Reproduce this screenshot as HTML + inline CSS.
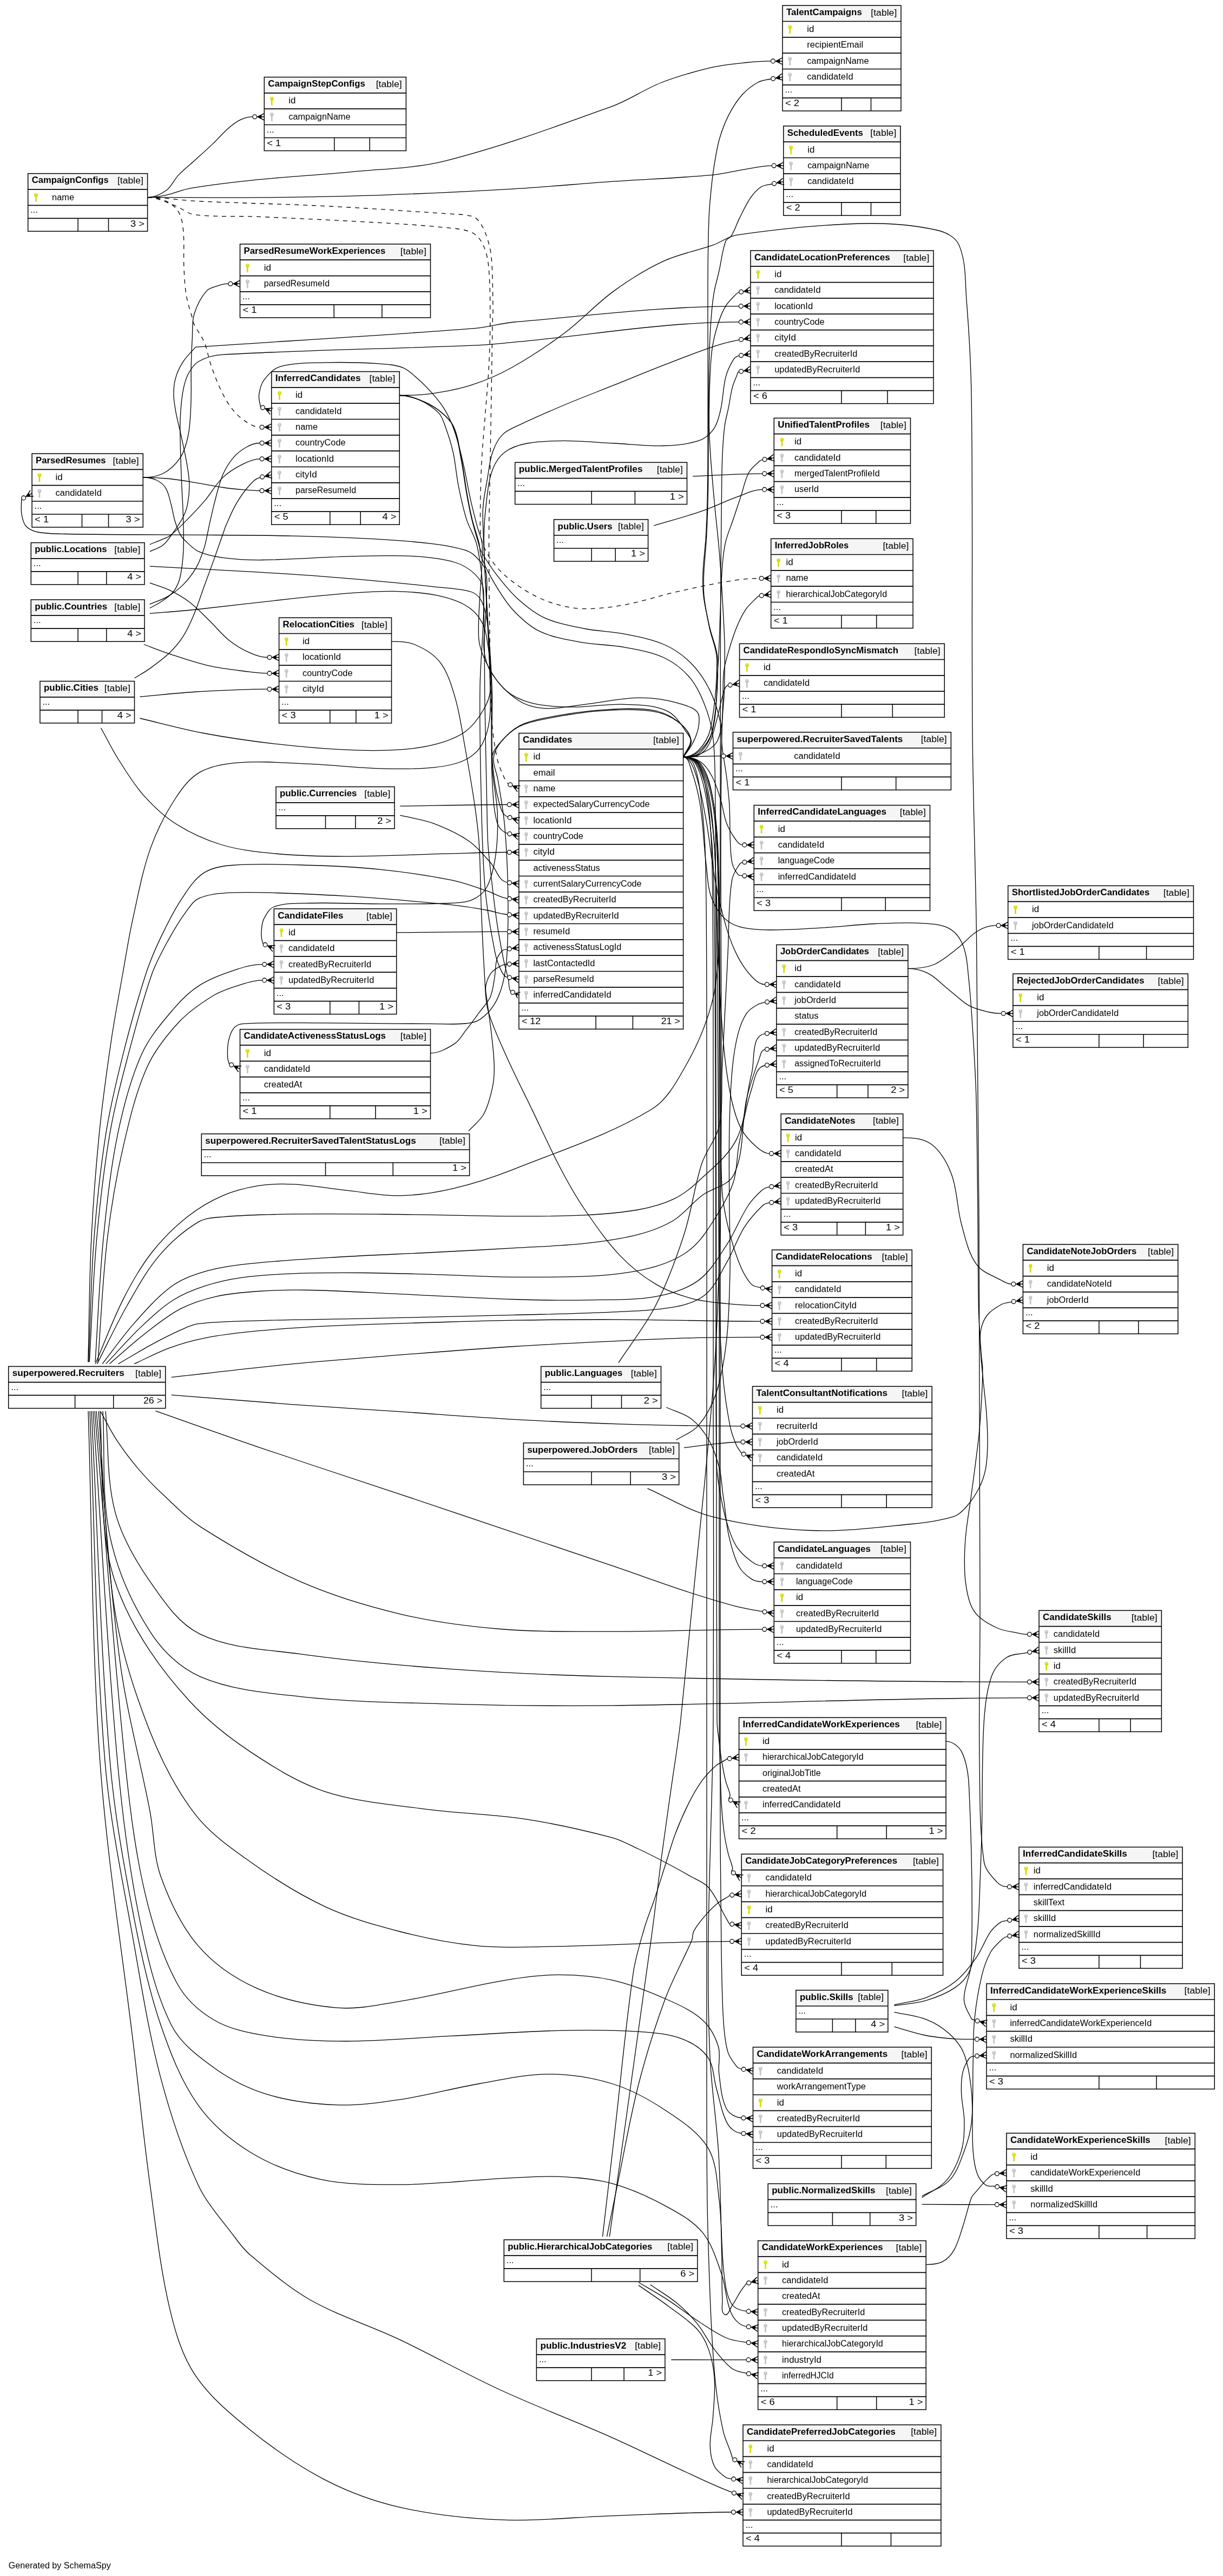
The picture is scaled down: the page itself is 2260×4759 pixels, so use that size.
<!DOCTYPE html>
<html><head><meta charset="utf-8"><title>Candidates - two degrees</title>
<style>
html,body{margin:0;padding:0;background:#fff}
svg{display:block;will-change:transform;opacity:0.9999}
text{font-family:"Liberation Sans",sans-serif;font-size:15.6px;fill:#000}
.b{font-weight:bold}
.il{stroke:#000;stroke-width:1.7;fill:none}
.vl{stroke:#000;stroke-width:1.5;fill:none}
.ob{stroke:#000;stroke-width:1.5;fill:none}
.e{stroke:#000;stroke-width:1.3;fill:none}
.d{stroke:#000;stroke-width:1.3;fill:none;stroke-dasharray:8 8}
.c circle{stroke:#000;stroke-width:1.3;fill:#fff}
.cr{stroke:#000;stroke-width:1.5;fill:none}
</style></head><body>
<svg width="2260" height="4759" viewBox="0 0 2260 4759">
<defs>
<g id="pk"><circle cx="0" cy="-4.3" r="3.4" fill="#d5dd00"/><circle cx="0" cy="-5.3" r="0.9" fill="#fff"/><path d="M-1.5 -2H1.4V1L0.8 1.6L1.4 2.2V3L0.8 3.6L1.4 4.2V5L0.8 5.6L1.4 6.2V7.4L0.4 8.4H-0.6L-1.5 7.4Z" fill="#d5dd00"/></g>
<g id="fk"><circle cx="0" cy="-4.3" r="3.4" fill="#c4c4c4"/><circle cx="0" cy="-5.3" r="0.9" fill="#fff"/><path d="M-1.5 -2H1.4V1L0.8 1.6L1.4 2.2V3L0.8 3.6L1.4 4.2V5L0.8 5.6L1.4 6.2V7.4L0.4 8.4H-0.6L-1.5 7.4Z" fill="#c4c4c4"/></g>
</defs>
<rect width="2260" height="4759" fill="#fff"/>
<g>
<rect x="488.3" y="142.5" width="262.1" height="136" fill="#fff"/>
<rect x="488.3" y="142.5" width="262.1" height="29.3" fill="#f5f5f5"/>
<path class="il" d="M488.3 171.8H750.4M488.3 201.2H750.4M488.3 230.5H750.4M488.3 254.5H750.4"/>
<path class="vl" d="M617.8 254.5V278.5M683.2 254.5V278.5"/>
<rect class="ob" x="488.3" y="142.5" width="262.1" height="136"/>
<text x="495.3" y="160.3" textLength="179.5" lengthAdjust="spacingAndGlyphs" class="b">CampaignStepConfigs</text>
<text x="742.7" y="161.1" textLength="48" lengthAdjust="spacingAndGlyphs" text-anchor="end">[table]</text>
<use href="#pk" x="502.4" y="186.5"/>
<text x="533.3" y="191.4" textLength="13.2" lengthAdjust="spacingAndGlyphs">id</text>
<use href="#fk" x="502.4" y="215.8"/>
<text x="533.3" y="220.7" textLength="114.2" lengthAdjust="spacingAndGlyphs">campaignName</text>
<text x="492.8" y="244.5" textLength="13.8" lengthAdjust="spacingAndGlyphs">...</text>
<text x="493.3" y="269.7" textLength="26" lengthAdjust="spacingAndGlyphs">&lt; 1</text>
</g>
<g>
<rect x="51.7" y="320.6" width="220.9" height="106.7" fill="#fff"/>
<rect x="51.7" y="320.6" width="220.9" height="29.3" fill="#f5f5f5"/>
<path class="il" d="M51.7 349.9H272.6M51.7 379.3H272.6M51.7 403.3H272.6"/>
<path class="vl" d="M144.1 403.3V427.3M200.5 403.3V427.3"/>
<rect class="ob" x="51.7" y="320.6" width="220.9" height="106.7"/>
<text x="58.7" y="338.4" textLength="142" lengthAdjust="spacingAndGlyphs" class="b">CampaignConfigs</text>
<text x="264.9" y="339.2" textLength="48" lengthAdjust="spacingAndGlyphs" text-anchor="end">[table]</text>
<use href="#pk" x="66.5" y="364.6"/>
<text x="96.1" y="369.5" textLength="41.1" lengthAdjust="spacingAndGlyphs">name</text>
<text x="56.2" y="393.3" textLength="13.8" lengthAdjust="spacingAndGlyphs">...</text>
<text x="266.9" y="418.5" textLength="26" lengthAdjust="spacingAndGlyphs" text-anchor="end">3 &gt;</text>
</g>
<g>
<rect x="443.5" y="450.9" width="352" height="136" fill="#fff"/>
<rect x="443.5" y="450.9" width="352" height="29.3" fill="#f5f5f5"/>
<path class="il" d="M443.5 480.2H795.5M443.5 509.6H795.5M443.5 538.9H795.5M443.5 562.9H795.5"/>
<path class="vl" d="M617.2 562.9V586.9M705.9 562.9V586.9"/>
<rect class="ob" x="443.5" y="450.9" width="352" height="136"/>
<text x="450.5" y="468.7" textLength="261.8" lengthAdjust="spacingAndGlyphs" class="b">ParsedResumeWorkExperiences</text>
<text x="787.8" y="469.5" textLength="48" lengthAdjust="spacingAndGlyphs" text-anchor="end">[table]</text>
<use href="#pk" x="457.4" y="494.9"/>
<text x="487.8" y="499.8" textLength="13.2" lengthAdjust="spacingAndGlyphs">id</text>
<use href="#fk" x="457.4" y="524.2"/>
<text x="487.8" y="529.1" textLength="121.3" lengthAdjust="spacingAndGlyphs">parsedResumeId</text>
<text x="448" y="552.9" textLength="13.8" lengthAdjust="spacingAndGlyphs">...</text>
<text x="448.5" y="578.1" textLength="26" lengthAdjust="spacingAndGlyphs">&lt; 1</text>
</g>
<g>
<rect x="501.7" y="686.5" width="236.5" height="282.7" fill="#fff"/>
<rect x="501.7" y="686.5" width="236.5" height="29.3" fill="#f5f5f5"/>
<path class="il" d="M501.7 715.8H738.2M501.7 745.2H738.2M501.7 774.5H738.2M501.7 803.8H738.2M501.7 833.2H738.2M501.7 862.5H738.2M501.7 891.8H738.2M501.7 921.2H738.2M501.7 945.2H738.2"/>
<path class="vl" d="M609.8 945.2V969.2M666.2 945.2V969.2"/>
<rect class="ob" x="501.7" y="686.5" width="236.5" height="282.7"/>
<text x="508.7" y="704.3" textLength="157.9" lengthAdjust="spacingAndGlyphs" class="b">InferredCandidates</text>
<text x="730.5" y="705.1" textLength="48" lengthAdjust="spacingAndGlyphs" text-anchor="end">[table]</text>
<use href="#pk" x="516.5" y="730.5"/>
<text x="546.1" y="735.4" textLength="13.2" lengthAdjust="spacingAndGlyphs">id</text>
<use href="#fk" x="516.5" y="759.8"/>
<text x="546.1" y="764.7" textLength="85.4" lengthAdjust="spacingAndGlyphs">candidateId</text>
<use href="#fk" x="516.5" y="789.2"/>
<text x="546.1" y="794.1" textLength="41.1" lengthAdjust="spacingAndGlyphs">name</text>
<use href="#fk" x="516.5" y="818.5"/>
<text x="546.1" y="823.4" textLength="92.5" lengthAdjust="spacingAndGlyphs">countryCode</text>
<use href="#fk" x="516.5" y="847.8"/>
<text x="546.1" y="852.7" textLength="71" lengthAdjust="spacingAndGlyphs">locationId</text>
<use href="#fk" x="516.5" y="877.2"/>
<text x="546.1" y="882.1" textLength="39.7" lengthAdjust="spacingAndGlyphs">cityId</text>
<use href="#fk" x="516.5" y="906.5"/>
<text x="546.1" y="911.4" textLength="112.1" lengthAdjust="spacingAndGlyphs">parseResumeId</text>
<text x="506.2" y="935.2" textLength="13.8" lengthAdjust="spacingAndGlyphs">...</text>
<text x="506.7" y="960.4" textLength="26" lengthAdjust="spacingAndGlyphs">&lt; 5</text>
<text x="732.5" y="960.4" textLength="26" lengthAdjust="spacingAndGlyphs" text-anchor="end">4 &gt;</text>
</g>
<g>
<rect x="59.1" y="838" width="205.2" height="136" fill="#fff"/>
<rect x="59.1" y="838" width="205.2" height="29.3" fill="#f5f5f5"/>
<path class="il" d="M59.1 867.3H264.3M59.1 896.7H264.3M59.1 926H264.3M59.1 950H264.3"/>
<path class="vl" d="M151.5 950V974M200.5 950V974"/>
<rect class="ob" x="59.1" y="838" width="205.2" height="136"/>
<text x="66.1" y="855.8" textLength="129.5" lengthAdjust="spacingAndGlyphs" class="b">ParsedResumes</text>
<text x="256.6" y="856.6" textLength="48" lengthAdjust="spacingAndGlyphs" text-anchor="end">[table]</text>
<use href="#pk" x="73" y="882"/>
<text x="102.6" y="886.9" textLength="13.2" lengthAdjust="spacingAndGlyphs">id</text>
<use href="#fk" x="73" y="911.3"/>
<text x="102.6" y="916.2" textLength="85.4" lengthAdjust="spacingAndGlyphs">candidateId</text>
<text x="63.6" y="940" textLength="13.8" lengthAdjust="spacingAndGlyphs">...</text>
<text x="64.1" y="965.2" textLength="26" lengthAdjust="spacingAndGlyphs">&lt; 1</text>
<text x="258.6" y="965.2" textLength="26" lengthAdjust="spacingAndGlyphs" text-anchor="end">3 &gt;</text>
</g>
<g>
<rect x="57.3" y="1002.6" width="209.7" height="77.3" fill="#fff"/>
<rect x="57.3" y="1002.6" width="209.7" height="29.3" fill="#f5f5f5"/>
<path class="il" d="M57.3 1031.9H267M57.3 1055.9H267"/>
<path class="vl" d="M144.1 1055.9V1079.9M196.8 1055.9V1079.9"/>
<rect class="ob" x="57.3" y="1002.6" width="209.7" height="77.3"/>
<text x="64.3" y="1020.4" textLength="133.4" lengthAdjust="spacingAndGlyphs" class="b">public.Locations</text>
<text x="259.3" y="1021.2" textLength="48" lengthAdjust="spacingAndGlyphs" text-anchor="end">[table]</text>
<text x="61.8" y="1045.9" textLength="13.8" lengthAdjust="spacingAndGlyphs">...</text>
<text x="261.3" y="1071.1" textLength="26" lengthAdjust="spacingAndGlyphs" text-anchor="end">4 &gt;</text>
</g>
<g>
<rect x="57.3" y="1107.9" width="209.7" height="77.3" fill="#fff"/>
<rect x="57.3" y="1107.9" width="209.7" height="29.3" fill="#f5f5f5"/>
<path class="il" d="M57.3 1137.2H267M57.3 1161.2H267"/>
<path class="vl" d="M144.1 1161.2V1185.2M196.8 1161.2V1185.2"/>
<rect class="ob" x="57.3" y="1107.9" width="209.7" height="77.3"/>
<text x="64.3" y="1125.7" textLength="133.8" lengthAdjust="spacingAndGlyphs" class="b">public.Countries</text>
<text x="259.3" y="1126.5" textLength="48" lengthAdjust="spacingAndGlyphs" text-anchor="end">[table]</text>
<text x="61.8" y="1151.2" textLength="13.8" lengthAdjust="spacingAndGlyphs">...</text>
<text x="261.3" y="1176.4" textLength="26" lengthAdjust="spacingAndGlyphs" text-anchor="end">4 &gt;</text>
</g>
<g>
<rect x="73.9" y="1258.5" width="174.6" height="77.3" fill="#fff"/>
<rect x="73.9" y="1258.5" width="174.6" height="29.3" fill="#f5f5f5"/>
<path class="il" d="M73.9 1287.8H248.5M73.9 1311.8H248.5"/>
<path class="vl" d="M144.1 1311.8V1335.8M188.5 1311.8V1335.8"/>
<rect class="ob" x="73.9" y="1258.5" width="174.6" height="77.3"/>
<text x="80.9" y="1276.3" textLength="101" lengthAdjust="spacingAndGlyphs" class="b">public.Cities</text>
<text x="240.8" y="1277.1" textLength="48" lengthAdjust="spacingAndGlyphs" text-anchor="end">[table]</text>
<text x="78.4" y="1301.8" textLength="13.8" lengthAdjust="spacingAndGlyphs">...</text>
<text x="242.8" y="1327" textLength="26" lengthAdjust="spacingAndGlyphs" text-anchor="end">4 &gt;</text>
</g>
<g>
<rect x="515.6" y="1141.2" width="207.9" height="194.7" fill="#fff"/>
<rect x="515.6" y="1141.2" width="207.9" height="29.3" fill="#f5f5f5"/>
<path class="il" d="M515.6 1170.5H723.5M515.6 1199.9H723.5M515.6 1229.2H723.5M515.6 1258.5H723.5M515.6 1287.9H723.5M515.6 1311.9H723.5"/>
<path class="vl" d="M609.8 1311.9V1335.9M657.9 1311.9V1335.9"/>
<rect class="ob" x="515.6" y="1141.2" width="207.9" height="194.7"/>
<text x="522.6" y="1159" textLength="132.4" lengthAdjust="spacingAndGlyphs" class="b">RelocationCities</text>
<text x="715.8" y="1159.8" textLength="48" lengthAdjust="spacingAndGlyphs" text-anchor="end">[table]</text>
<use href="#pk" x="529.4" y="1185.2"/>
<text x="559" y="1190.1" textLength="13.2" lengthAdjust="spacingAndGlyphs">id</text>
<use href="#fk" x="529.4" y="1214.5"/>
<text x="559" y="1219.4" textLength="71" lengthAdjust="spacingAndGlyphs">locationId</text>
<use href="#fk" x="529.4" y="1243.9"/>
<text x="559" y="1248.8" textLength="92.5" lengthAdjust="spacingAndGlyphs">countryCode</text>
<use href="#fk" x="529.4" y="1273.2"/>
<text x="559" y="1278.1" textLength="39.7" lengthAdjust="spacingAndGlyphs">cityId</text>
<text x="520.1" y="1301.9" textLength="13.8" lengthAdjust="spacingAndGlyphs">...</text>
<text x="520.6" y="1327.1" textLength="26" lengthAdjust="spacingAndGlyphs">&lt; 3</text>
<text x="717.8" y="1327.1" textLength="26" lengthAdjust="spacingAndGlyphs" text-anchor="end">1 &gt;</text>
</g>
<g>
<rect x="510" y="1453.5" width="219" height="77.3" fill="#fff"/>
<rect x="510" y="1453.5" width="219" height="29.3" fill="#f5f5f5"/>
<path class="il" d="M510 1482.8H729M510 1506.8H729"/>
<path class="vl" d="M601.5 1506.8V1530.8M656.9 1506.8V1530.8"/>
<rect class="ob" x="510" y="1453.5" width="219" height="77.3"/>
<text x="517" y="1471.3" textLength="142.5" lengthAdjust="spacingAndGlyphs" class="b">public.Currencies</text>
<text x="721.3" y="1472.1" textLength="48" lengthAdjust="spacingAndGlyphs" text-anchor="end">[table]</text>
<text x="514.5" y="1496.8" textLength="13.8" lengthAdjust="spacingAndGlyphs">...</text>
<text x="723.3" y="1522" textLength="26" lengthAdjust="spacingAndGlyphs" text-anchor="end">2 &gt;</text>
</g>
<g>
<rect x="506.3" y="1678.9" width="226.4" height="194.7" fill="#fff"/>
<rect x="506.3" y="1678.9" width="226.4" height="29.3" fill="#f5f5f5"/>
<path class="il" d="M506.3 1708.2H732.7M506.3 1737.6H732.7M506.3 1766.9H732.7M506.3 1796.2H732.7M506.3 1825.6H732.7M506.3 1849.6H732.7"/>
<path class="vl" d="M609.8 1849.6V1873.6M663.4 1849.6V1873.6"/>
<rect class="ob" x="506.3" y="1678.9" width="226.4" height="194.7"/>
<text x="513.3" y="1696.7" textLength="121.3" lengthAdjust="spacingAndGlyphs" class="b">CandidateFiles</text>
<text x="725" y="1697.5" textLength="48" lengthAdjust="spacingAndGlyphs" text-anchor="end">[table]</text>
<use href="#pk" x="520" y="1722.9"/>
<text x="533" y="1727.8" textLength="13.2" lengthAdjust="spacingAndGlyphs">id</text>
<use href="#fk" x="520" y="1752.2"/>
<text x="533" y="1757.1" textLength="85.4" lengthAdjust="spacingAndGlyphs">candidateId</text>
<use href="#fk" x="520" y="1781.6"/>
<text x="533" y="1786.5" textLength="153.2" lengthAdjust="spacingAndGlyphs">createdByRecruiterId</text>
<use href="#fk" x="520" y="1810.9"/>
<text x="533" y="1815.8" textLength="158.3" lengthAdjust="spacingAndGlyphs">updatedByRecruiterId</text>
<text x="510.8" y="1839.6" textLength="13.8" lengthAdjust="spacingAndGlyphs">...</text>
<text x="511.3" y="1864.8" textLength="26" lengthAdjust="spacingAndGlyphs">&lt; 3</text>
<text x="727" y="1864.8" textLength="26" lengthAdjust="spacingAndGlyphs" text-anchor="end">1 &gt;</text>
</g>
<g>
<rect x="958.9" y="1354.5" width="303.7" height="546.7" fill="#fff"/>
<rect x="958.9" y="1354.5" width="303.7" height="29.3" fill="#f5f5f5"/>
<path class="il" d="M958.9 1383.8H1262.6M958.9 1413.2H1262.6M958.9 1442.5H1262.6M958.9 1471.8H1262.6M958.9 1501.2H1262.6M958.9 1530.5H1262.6M958.9 1559.8H1262.6M958.9 1589.2H1262.6M958.9 1618.5H1262.6M958.9 1647.8H1262.6M958.9 1677.2H1262.6M958.9 1706.5H1262.6M958.9 1735.8H1262.6M958.9 1765.2H1262.6M958.9 1794.5H1262.6M958.9 1823.8H1262.6M958.9 1853.2H1262.6M958.9 1877.2H1262.6"/>
<path class="vl" d="M1101.1 1877.2V1901.2M1169.4 1877.2V1901.2"/>
<rect class="ob" x="958.9" y="1354.5" width="303.7" height="546.7"/>
<text x="965.9" y="1372.3" textLength="91.6" lengthAdjust="spacingAndGlyphs" class="b">Candidates</text>
<text x="1254.9" y="1373.1" textLength="48" lengthAdjust="spacingAndGlyphs" text-anchor="end">[table]</text>
<use href="#pk" x="972.4" y="1398.5"/>
<text x="985.4" y="1403.4" textLength="13.2" lengthAdjust="spacingAndGlyphs">id</text>
<text x="985.4" y="1432.7" textLength="40" lengthAdjust="spacingAndGlyphs">email</text>
<use href="#fk" x="972.4" y="1457.2"/>
<text x="985.4" y="1462.1" textLength="41.1" lengthAdjust="spacingAndGlyphs">name</text>
<use href="#fk" x="972.4" y="1486.5"/>
<text x="985.4" y="1491.4" textLength="215.1" lengthAdjust="spacingAndGlyphs">expectedSalaryCurrencyCode</text>
<use href="#fk" x="972.4" y="1515.8"/>
<text x="985.4" y="1520.7" textLength="71" lengthAdjust="spacingAndGlyphs">locationId</text>
<use href="#fk" x="972.4" y="1545.2"/>
<text x="985.4" y="1550.1" textLength="92.5" lengthAdjust="spacingAndGlyphs">countryCode</text>
<use href="#fk" x="972.4" y="1574.5"/>
<text x="985.4" y="1579.4" textLength="39.7" lengthAdjust="spacingAndGlyphs">cityId</text>
<text x="985.4" y="1608.7" textLength="123.4" lengthAdjust="spacingAndGlyphs">activenessStatus</text>
<use href="#fk" x="972.4" y="1633.2"/>
<text x="985.4" y="1638.1" textLength="200.2" lengthAdjust="spacingAndGlyphs">currentSalaryCurrencyCode</text>
<use href="#fk" x="972.4" y="1662.5"/>
<text x="985.4" y="1667.4" textLength="153.2" lengthAdjust="spacingAndGlyphs">createdByRecruiterId</text>
<use href="#fk" x="972.4" y="1691.8"/>
<text x="985.4" y="1696.7" textLength="158.3" lengthAdjust="spacingAndGlyphs">updatedByRecruiterId</text>
<use href="#fk" x="972.4" y="1721.2"/>
<text x="985.4" y="1726.1" textLength="67.8" lengthAdjust="spacingAndGlyphs">resumeId</text>
<use href="#fk" x="972.4" y="1750.5"/>
<text x="985.4" y="1755.4" textLength="162.8" lengthAdjust="spacingAndGlyphs">activenessStatusLogId</text>
<use href="#fk" x="972.4" y="1779.8"/>
<text x="985.4" y="1784.7" textLength="114.1" lengthAdjust="spacingAndGlyphs">lastContactedId</text>
<use href="#fk" x="972.4" y="1809.2"/>
<text x="985.4" y="1814.1" textLength="112.1" lengthAdjust="spacingAndGlyphs">parseResumeId</text>
<use href="#fk" x="972.4" y="1838.5"/>
<text x="985.4" y="1843.4" textLength="144.3" lengthAdjust="spacingAndGlyphs">inferredCandidateId</text>
<text x="963.4" y="1867.2" textLength="13.8" lengthAdjust="spacingAndGlyphs">...</text>
<text x="963.9" y="1892.4" textLength="35.2" lengthAdjust="spacingAndGlyphs">&lt; 12</text>
<text x="1256.9" y="1892.4" textLength="35.2" lengthAdjust="spacingAndGlyphs" text-anchor="end">21 &gt;</text>
</g>
<g>
<rect x="443.5" y="1901.6" width="352" height="165.3" fill="#fff"/>
<rect x="443.5" y="1901.6" width="352" height="29.3" fill="#f5f5f5"/>
<path class="il" d="M443.5 1930.9H795.5M443.5 1960.3H795.5M443.5 1989.6H795.5M443.5 2018.9H795.5M443.5 2042.9H795.5"/>
<path class="vl" d="M609.8 2042.9V2066.9M693.9 2042.9V2066.9"/>
<rect class="ob" x="443.5" y="1901.6" width="352" height="165.3"/>
<text x="450.5" y="1919.4" textLength="262.5" lengthAdjust="spacingAndGlyphs" class="b">CandidateActivenessStatusLogs</text>
<text x="787.8" y="1920.2" textLength="48" lengthAdjust="spacingAndGlyphs" text-anchor="end">[table]</text>
<use href="#pk" x="457.4" y="1945.6"/>
<text x="487.8" y="1950.5" textLength="13.2" lengthAdjust="spacingAndGlyphs">id</text>
<use href="#fk" x="457.4" y="1974.9"/>
<text x="487.8" y="1979.8" textLength="85.4" lengthAdjust="spacingAndGlyphs">candidateId</text>
<text x="487.8" y="2009.2" textLength="70.5" lengthAdjust="spacingAndGlyphs">createdAt</text>
<text x="448" y="2032.9" textLength="13.8" lengthAdjust="spacingAndGlyphs">...</text>
<text x="448.5" y="2058.1" textLength="26" lengthAdjust="spacingAndGlyphs">&lt; 1</text>
<text x="789.8" y="2058.1" textLength="26" lengthAdjust="spacingAndGlyphs" text-anchor="end">1 &gt;</text>
</g>
<g>
<rect x="372.3" y="2094.7" width="495.3" height="77.3" fill="#fff"/>
<rect x="372.3" y="2094.7" width="495.3" height="29.3" fill="#f5f5f5"/>
<path class="il" d="M372.3 2124H867.6M372.3 2148H867.6"/>
<path class="vl" d="M601.5 2148V2172M726.2 2148V2172"/>
<rect class="ob" x="372.3" y="2094.7" width="495.3" height="77.3"/>
<text x="379.3" y="2112.5" textLength="389.5" lengthAdjust="spacingAndGlyphs" class="b">superpowered.RecruiterSavedTalentStatusLogs</text>
<text x="859.9" y="2113.3" textLength="48" lengthAdjust="spacingAndGlyphs" text-anchor="end">[table]</text>
<text x="376.8" y="2138" textLength="13.8" lengthAdjust="spacingAndGlyphs">...</text>
<text x="861.9" y="2163.2" textLength="26" lengthAdjust="spacingAndGlyphs" text-anchor="end">1 &gt;</text>
</g>
<g>
<rect x="15.7" y="2524.4" width="290.1" height="77.3" fill="#fff"/>
<rect x="15.7" y="2524.4" width="290.1" height="29.3" fill="#f5f5f5"/>
<path class="il" d="M15.7 2553.7H305.8M15.7 2577.7H305.8"/>
<path class="vl" d="M138.6 2577.7V2601.7M209.7 2577.7V2601.7"/>
<rect class="ob" x="15.7" y="2524.4" width="290.1" height="77.3"/>
<text x="22.7" y="2542.2" textLength="207.2" lengthAdjust="spacingAndGlyphs" class="b">superpowered.Recruiters</text>
<text x="298.1" y="2543" textLength="48" lengthAdjust="spacingAndGlyphs" text-anchor="end">[table]</text>
<text x="20.2" y="2567.7" textLength="13.8" lengthAdjust="spacingAndGlyphs">...</text>
<text x="300.1" y="2592.9" textLength="35.2" lengthAdjust="spacingAndGlyphs" text-anchor="end">26 &gt;</text>
</g>
<g>
<rect x="999.7" y="2524.4" width="221.8" height="77.3" fill="#fff"/>
<rect x="999.7" y="2524.4" width="221.8" height="29.3" fill="#f5f5f5"/>
<path class="il" d="M999.7 2553.7H1221.5M999.7 2577.7H1221.5"/>
<path class="vl" d="M1093 2577.7V2601.7M1148.5 2577.7V2601.7"/>
<rect class="ob" x="999.7" y="2524.4" width="221.8" height="77.3"/>
<text x="1006.7" y="2542.2" textLength="143.7" lengthAdjust="spacingAndGlyphs" class="b">public.Languages</text>
<text x="1213.8" y="2543" textLength="48" lengthAdjust="spacingAndGlyphs" text-anchor="end">[table]</text>
<text x="1004.2" y="2567.7" textLength="13.8" lengthAdjust="spacingAndGlyphs">...</text>
<text x="1215.8" y="2592.9" textLength="26" lengthAdjust="spacingAndGlyphs" text-anchor="end">2 &gt;</text>
</g>
<g>
<rect x="967.4" y="2665.7" width="287.3" height="77.3" fill="#fff"/>
<rect x="967.4" y="2665.7" width="287.3" height="29.3" fill="#f5f5f5"/>
<path class="il" d="M967.4 2695H1254.7M967.4 2719H1254.7"/>
<path class="vl" d="M1093 2719V2743M1165.1 2719V2743"/>
<rect class="ob" x="967.4" y="2665.7" width="287.3" height="77.3"/>
<text x="974.4" y="2683.5" textLength="203.9" lengthAdjust="spacingAndGlyphs" class="b">superpowered.JobOrders</text>
<text x="1247" y="2684.3" textLength="48" lengthAdjust="spacingAndGlyphs" text-anchor="end">[table]</text>
<text x="971.9" y="2709" textLength="13.8" lengthAdjust="spacingAndGlyphs">...</text>
<text x="1249" y="2734.2" textLength="26" lengthAdjust="spacingAndGlyphs" text-anchor="end">3 &gt;</text>
</g>
<g>
<rect x="951.7" y="854.3" width="317.8" height="77.3" fill="#fff"/>
<rect x="951.7" y="854.3" width="317.8" height="29.3" fill="#f5f5f5"/>
<path class="il" d="M951.7 883.6H1269.5M951.7 907.6H1269.5"/>
<path class="vl" d="M1093.2 907.6V931.6M1173.4 907.6V931.6"/>
<rect class="ob" x="951.7" y="854.3" width="317.8" height="77.3"/>
<text x="958.7" y="872.1" textLength="228.8" lengthAdjust="spacingAndGlyphs" class="b">public.MergedTalentProfiles</text>
<text x="1261.8" y="872.9" textLength="48" lengthAdjust="spacingAndGlyphs" text-anchor="end">[table]</text>
<text x="956.2" y="897.6" textLength="13.8" lengthAdjust="spacingAndGlyphs">...</text>
<text x="1263.8" y="922.8" textLength="26" lengthAdjust="spacingAndGlyphs" text-anchor="end">1 &gt;</text>
</g>
<g>
<rect x="1023.6" y="959.7" width="174" height="77.3" fill="#fff"/>
<rect x="1023.6" y="959.7" width="174" height="29.3" fill="#f5f5f5"/>
<path class="il" d="M1023.6 989H1197.6M1023.6 1013H1197.6"/>
<path class="vl" d="M1093.2 1013V1037M1137.2 1013V1037"/>
<rect class="ob" x="1023.6" y="959.7" width="174" height="77.3"/>
<text x="1030.6" y="977.5" textLength="101.1" lengthAdjust="spacingAndGlyphs" class="b">public.Users</text>
<text x="1189.9" y="978.3" textLength="48" lengthAdjust="spacingAndGlyphs" text-anchor="end">[table]</text>
<text x="1028.1" y="1003" textLength="13.8" lengthAdjust="spacingAndGlyphs">...</text>
<text x="1191.9" y="1028.2" textLength="26" lengthAdjust="spacingAndGlyphs" text-anchor="end">1 &gt;</text>
</g>
<g>
<rect x="1446" y="10.2" width="219" height="194.7" fill="#fff"/>
<rect x="1446" y="10.2" width="219" height="29.3" fill="#f5f5f5"/>
<path class="il" d="M1446 39.5H1665M1446 68.9H1665M1446 98.2H1665M1446 127.5H1665M1446 156.9H1665M1446 180.9H1665"/>
<path class="vl" d="M1555 180.9V204.9M1609.5 180.9V204.9"/>
<rect class="ob" x="1446" y="10.2" width="219" height="194.7"/>
<text x="1453" y="28" textLength="139.8" lengthAdjust="spacingAndGlyphs" class="b">TalentCampaigns</text>
<text x="1657.3" y="28.8" textLength="48" lengthAdjust="spacingAndGlyphs" text-anchor="end">[table]</text>
<use href="#pk" x="1459.8" y="54.2"/>
<text x="1491.3" y="59.1" textLength="13.2" lengthAdjust="spacingAndGlyphs">id</text>
<text x="1491.3" y="88.4" textLength="103.8" lengthAdjust="spacingAndGlyphs">recipientEmail</text>
<use href="#fk" x="1459.8" y="112.9"/>
<text x="1491.3" y="117.8" textLength="114.2" lengthAdjust="spacingAndGlyphs">campaignName</text>
<use href="#fk" x="1459.8" y="142.2"/>
<text x="1491.3" y="147.1" textLength="85.4" lengthAdjust="spacingAndGlyphs">candidateId</text>
<text x="1450.5" y="170.9" textLength="13.8" lengthAdjust="spacingAndGlyphs">...</text>
<text x="1451" y="196.1" textLength="26" lengthAdjust="spacingAndGlyphs">&lt; 2</text>
</g>
<g>
<rect x="1447.8" y="232.8" width="216.2" height="165.3" fill="#fff"/>
<rect x="1447.8" y="232.8" width="216.2" height="29.3" fill="#f5f5f5"/>
<path class="il" d="M1447.8 262.1H1664M1447.8 291.5H1664M1447.8 320.8H1664M1447.8 350.1H1664M1447.8 374.1H1664"/>
<path class="vl" d="M1555 374.1V398.1M1609.5 374.1V398.1"/>
<rect class="ob" x="1447.8" y="232.8" width="216.2" height="165.3"/>
<text x="1454.8" y="250.6" textLength="140.1" lengthAdjust="spacingAndGlyphs" class="b">ScheduledEvents</text>
<text x="1656.3" y="251.4" textLength="48" lengthAdjust="spacingAndGlyphs" text-anchor="end">[table]</text>
<use href="#pk" x="1461.7" y="276.8"/>
<text x="1492.2" y="281.7" textLength="13.2" lengthAdjust="spacingAndGlyphs">id</text>
<use href="#fk" x="1461.7" y="306.1"/>
<text x="1492.2" y="311" textLength="114.2" lengthAdjust="spacingAndGlyphs">campaignName</text>
<use href="#fk" x="1461.7" y="335.5"/>
<text x="1492.2" y="340.4" textLength="85.4" lengthAdjust="spacingAndGlyphs">candidateId</text>
<text x="1452.3" y="364.1" textLength="13.8" lengthAdjust="spacingAndGlyphs">...</text>
<text x="1452.8" y="389.3" textLength="26" lengthAdjust="spacingAndGlyphs">&lt; 2</text>
</g>
<g>
<rect x="1386.9" y="462.9" width="338.1" height="282.7" fill="#fff"/>
<rect x="1386.9" y="462.9" width="338.1" height="29.3" fill="#f5f5f5"/>
<path class="il" d="M1386.9 492.2H1725M1386.9 521.6H1725M1386.9 550.9H1725M1386.9 580.2H1725M1386.9 609.6H1725M1386.9 638.9H1725M1386.9 668.2H1725M1386.9 697.6H1725M1386.9 721.6H1725"/>
<path class="vl" d="M1555 721.6V745.6M1640 721.6V745.6"/>
<rect class="ob" x="1386.9" y="462.9" width="338.1" height="282.7"/>
<text x="1393.9" y="480.7" textLength="250.8" lengthAdjust="spacingAndGlyphs" class="b">CandidateLocationPreferences</text>
<text x="1717.3" y="481.5" textLength="48" lengthAdjust="spacingAndGlyphs" text-anchor="end">[table]</text>
<use href="#pk" x="1400.7" y="506.9"/>
<text x="1431.2" y="511.8" textLength="13.2" lengthAdjust="spacingAndGlyphs">id</text>
<use href="#fk" x="1400.7" y="536.2"/>
<text x="1431.2" y="541.1" textLength="85.4" lengthAdjust="spacingAndGlyphs">candidateId</text>
<use href="#fk" x="1400.7" y="565.6"/>
<text x="1431.2" y="570.5" textLength="71" lengthAdjust="spacingAndGlyphs">locationId</text>
<use href="#fk" x="1400.7" y="594.9"/>
<text x="1431.2" y="599.8" textLength="92.5" lengthAdjust="spacingAndGlyphs">countryCode</text>
<use href="#fk" x="1400.7" y="624.2"/>
<text x="1431.2" y="629.1" textLength="39.7" lengthAdjust="spacingAndGlyphs">cityId</text>
<use href="#fk" x="1400.7" y="653.6"/>
<text x="1431.2" y="658.5" textLength="153.2" lengthAdjust="spacingAndGlyphs">createdByRecruiterId</text>
<use href="#fk" x="1400.7" y="682.9"/>
<text x="1431.2" y="687.8" textLength="158.3" lengthAdjust="spacingAndGlyphs">updatedByRecruiterId</text>
<text x="1391.4" y="711.6" textLength="13.8" lengthAdjust="spacingAndGlyphs">...</text>
<text x="1391.9" y="736.8" textLength="26" lengthAdjust="spacingAndGlyphs">&lt; 6</text>
</g>
<g>
<rect x="1430.3" y="772.4" width="252.2" height="194.7" fill="#fff"/>
<rect x="1430.3" y="772.4" width="252.2" height="29.3" fill="#f5f5f5"/>
<path class="il" d="M1430.3 801.7H1682.5M1430.3 831.1H1682.5M1430.3 860.4H1682.5M1430.3 889.7H1682.5M1430.3 919.1H1682.5M1430.3 943.1H1682.5"/>
<path class="vl" d="M1555 943.1V967.1M1618.8 943.1V967.1"/>
<rect class="ob" x="1430.3" y="772.4" width="252.2" height="194.7"/>
<text x="1437.3" y="790.2" textLength="169.7" lengthAdjust="spacingAndGlyphs" class="b">UnifiedTalentProfiles</text>
<text x="1674.8" y="791" textLength="48" lengthAdjust="spacingAndGlyphs" text-anchor="end">[table]</text>
<use href="#pk" x="1445" y="816.4"/>
<text x="1468" y="821.3" textLength="13.2" lengthAdjust="spacingAndGlyphs">id</text>
<use href="#fk" x="1445" y="845.7"/>
<text x="1468" y="850.6" textLength="85.4" lengthAdjust="spacingAndGlyphs">candidateId</text>
<use href="#fk" x="1445" y="875.1"/>
<text x="1468" y="880" textLength="157.7" lengthAdjust="spacingAndGlyphs">mergedTalentProfileId</text>
<use href="#fk" x="1445" y="904.4"/>
<text x="1468" y="909.3" textLength="45.1" lengthAdjust="spacingAndGlyphs">userId</text>
<text x="1434.8" y="933.1" textLength="13.8" lengthAdjust="spacingAndGlyphs">...</text>
<text x="1435.3" y="958.3" textLength="26" lengthAdjust="spacingAndGlyphs">&lt; 3</text>
</g>
<g>
<rect x="1424.7" y="995.2" width="262.4" height="165.3" fill="#fff"/>
<rect x="1424.7" y="995.2" width="262.4" height="29.3" fill="#f5f5f5"/>
<path class="il" d="M1424.7 1024.5H1687.1M1424.7 1053.9H1687.1M1424.7 1083.2H1687.1M1424.7 1112.5H1687.1M1424.7 1136.5H1687.1"/>
<path class="vl" d="M1555 1136.5V1160.5M1619.7 1136.5V1160.5"/>
<rect class="ob" x="1424.7" y="995.2" width="262.4" height="165.3"/>
<text x="1431.7" y="1013" textLength="136.6" lengthAdjust="spacingAndGlyphs" class="b">InferredJobRoles</text>
<text x="1679.4" y="1013.8" textLength="48" lengthAdjust="spacingAndGlyphs" text-anchor="end">[table]</text>
<use href="#pk" x="1438.6" y="1039.2"/>
<text x="1452.5" y="1044.1" textLength="13.2" lengthAdjust="spacingAndGlyphs">id</text>
<use href="#fk" x="1438.6" y="1068.5"/>
<text x="1452.5" y="1073.4" textLength="41.1" lengthAdjust="spacingAndGlyphs">name</text>
<use href="#fk" x="1438.6" y="1097.9"/>
<text x="1452.5" y="1102.8" textLength="186.7" lengthAdjust="spacingAndGlyphs">hierarchicalJobCategoryId</text>
<text x="1429.2" y="1126.5" textLength="13.8" lengthAdjust="spacingAndGlyphs">...</text>
<text x="1429.7" y="1151.7" textLength="26" lengthAdjust="spacingAndGlyphs">&lt; 1</text>
</g>
<g>
<rect x="1366.5" y="1189.2" width="378.8" height="136" fill="#fff"/>
<rect x="1366.5" y="1189.2" width="378.8" height="29.3" fill="#f5f5f5"/>
<path class="il" d="M1366.5 1218.5H1745.3M1366.5 1247.9H1745.3M1366.5 1277.2H1745.3M1366.5 1301.2H1745.3"/>
<path class="vl" d="M1555 1301.2V1325.2M1649.3 1301.2V1325.2"/>
<rect class="ob" x="1366.5" y="1189.2" width="378.8" height="136"/>
<text x="1373.5" y="1207" textLength="286.5" lengthAdjust="spacingAndGlyphs" class="b">CandidateRespondIoSyncMismatch</text>
<text x="1737.6" y="1207.8" textLength="48" lengthAdjust="spacingAndGlyphs" text-anchor="end">[table]</text>
<use href="#pk" x="1380.4" y="1233.2"/>
<text x="1410.9" y="1238.1" textLength="13.2" lengthAdjust="spacingAndGlyphs">id</text>
<use href="#fk" x="1380.4" y="1262.5"/>
<text x="1410.9" y="1267.4" textLength="85.4" lengthAdjust="spacingAndGlyphs">candidateId</text>
<text x="1371" y="1291.2" textLength="13.8" lengthAdjust="spacingAndGlyphs">...</text>
<text x="1371.5" y="1316.4" textLength="26" lengthAdjust="spacingAndGlyphs">&lt; 1</text>
</g>
<g>
<rect x="1354.5" y="1352.7" width="402.9" height="106.7" fill="#fff"/>
<rect x="1354.5" y="1352.7" width="402.9" height="29.3" fill="#f5f5f5"/>
<path class="il" d="M1354.5 1382H1757.4M1354.5 1411.4H1757.4M1354.5 1435.4H1757.4"/>
<path class="vl" d="M1555 1435.4V1459.4M1655.7 1435.4V1459.4"/>
<rect class="ob" x="1354.5" y="1352.7" width="402.9" height="106.7"/>
<text x="1361.5" y="1370.5" textLength="306.9" lengthAdjust="spacingAndGlyphs" class="b">superpowered.RecruiterSavedTalents</text>
<text x="1749.7" y="1371.3" textLength="48" lengthAdjust="spacingAndGlyphs" text-anchor="end">[table]</text>
<use href="#fk" x="1368.4" y="1396.7"/>
<text x="1467.2" y="1401.6" textLength="85.4" lengthAdjust="spacingAndGlyphs">candidateId</text>
<text x="1359" y="1425.4" textLength="13.8" lengthAdjust="spacingAndGlyphs">...</text>
<text x="1359.5" y="1450.6" textLength="26" lengthAdjust="spacingAndGlyphs">&lt; 1</text>
</g>
<g>
<rect x="1393.3" y="1487.6" width="325.2" height="194.7" fill="#fff"/>
<rect x="1393.3" y="1487.6" width="325.2" height="29.3" fill="#f5f5f5"/>
<path class="il" d="M1393.3 1516.9H1718.5M1393.3 1546.3H1718.5M1393.3 1575.6H1718.5M1393.3 1604.9H1718.5M1393.3 1634.3H1718.5M1393.3 1658.3H1718.5"/>
<path class="vl" d="M1555 1658.3V1682.3M1636.3 1658.3V1682.3"/>
<rect class="ob" x="1393.3" y="1487.6" width="325.2" height="194.7"/>
<text x="1400.3" y="1505.4" textLength="237.9" lengthAdjust="spacingAndGlyphs" class="b">InferredCandidateLanguages</text>
<text x="1710.8" y="1506.2" textLength="48" lengthAdjust="spacingAndGlyphs" text-anchor="end">[table]</text>
<use href="#pk" x="1407.2" y="1531.6"/>
<text x="1437.7" y="1536.5" textLength="13.2" lengthAdjust="spacingAndGlyphs">id</text>
<use href="#fk" x="1407.2" y="1560.9"/>
<text x="1437.7" y="1565.8" textLength="85.4" lengthAdjust="spacingAndGlyphs">candidateId</text>
<use href="#fk" x="1407.2" y="1590.3"/>
<text x="1437.7" y="1595.2" textLength="104.6" lengthAdjust="spacingAndGlyphs">languageCode</text>
<use href="#fk" x="1407.2" y="1619.6"/>
<text x="1437.7" y="1624.5" textLength="144.3" lengthAdjust="spacingAndGlyphs">inferredCandidateId</text>
<text x="1397.8" y="1648.3" textLength="13.8" lengthAdjust="spacingAndGlyphs">...</text>
<text x="1398.3" y="1673.5" textLength="26" lengthAdjust="spacingAndGlyphs">&lt; 3</text>
</g>
<g>
<rect x="1862.7" y="1636.4" width="342.8" height="136" fill="#fff"/>
<rect x="1862.7" y="1636.4" width="342.8" height="29.3" fill="#f5f5f5"/>
<path class="il" d="M1862.7 1665.7H2205.5M1862.7 1695.1H2205.5M1862.7 1724.4H2205.5M1862.7 1748.4H2205.5"/>
<path class="vl" d="M2030.9 1748.4V1772.4M2118.6 1748.4V1772.4"/>
<rect class="ob" x="1862.7" y="1636.4" width="342.8" height="136"/>
<text x="1869.7" y="1654.2" textLength="254.6" lengthAdjust="spacingAndGlyphs" class="b">ShortlistedJobOrderCandidates</text>
<text x="2197.8" y="1655" textLength="48" lengthAdjust="spacingAndGlyphs" text-anchor="end">[table]</text>
<use href="#pk" x="1876.5" y="1680.4"/>
<text x="1907" y="1685.3" textLength="13.2" lengthAdjust="spacingAndGlyphs">id</text>
<use href="#fk" x="1876.5" y="1709.7"/>
<text x="1907" y="1714.6" textLength="150.9" lengthAdjust="spacingAndGlyphs">jobOrderCandidateId</text>
<text x="1867.2" y="1738.4" textLength="13.8" lengthAdjust="spacingAndGlyphs">...</text>
<text x="1867.7" y="1763.6" textLength="26" lengthAdjust="spacingAndGlyphs">&lt; 1</text>
</g>
<g>
<rect x="1871.9" y="1799" width="323.4" height="136" fill="#fff"/>
<rect x="1871.9" y="1799" width="323.4" height="29.3" fill="#f5f5f5"/>
<path class="il" d="M1871.9 1828.3H2195.3M1871.9 1857.7H2195.3M1871.9 1887H2195.3M1871.9 1911H2195.3"/>
<path class="vl" d="M2030.9 1911V1935M2113.1 1911V1935"/>
<rect class="ob" x="1871.9" y="1799" width="323.4" height="136"/>
<text x="1878.9" y="1816.8" textLength="235.6" lengthAdjust="spacingAndGlyphs" class="b">RejectedJobOrderCandidates</text>
<text x="2187.6" y="1817.6" textLength="48" lengthAdjust="spacingAndGlyphs" text-anchor="end">[table]</text>
<use href="#pk" x="1885.8" y="1843"/>
<text x="1916.3" y="1847.9" textLength="13.2" lengthAdjust="spacingAndGlyphs">id</text>
<use href="#fk" x="1885.8" y="1872.3"/>
<text x="1916.3" y="1877.2" textLength="150.9" lengthAdjust="spacingAndGlyphs">jobOrderCandidateId</text>
<text x="1876.4" y="1901" textLength="13.8" lengthAdjust="spacingAndGlyphs">...</text>
<text x="1876.9" y="1926.2" textLength="26" lengthAdjust="spacingAndGlyphs">&lt; 1</text>
</g>
<g>
<rect x="1434.9" y="1745.4" width="243" height="282.7" fill="#fff"/>
<rect x="1434.9" y="1745.4" width="243" height="29.3" fill="#f5f5f5"/>
<path class="il" d="M1434.9 1774.7H1677.9M1434.9 1804.1H1677.9M1434.9 1833.4H1677.9M1434.9 1862.7H1677.9M1434.9 1892.1H1677.9M1434.9 1921.4H1677.9M1434.9 1950.7H1677.9M1434.9 1980.1H1677.9M1434.9 2004.1H1677.9"/>
<path class="vl" d="M1546.7 2004.1V2028.1M1604 2004.1V2028.1"/>
<rect class="ob" x="1434.9" y="1745.4" width="243" height="282.7"/>
<text x="1441.9" y="1763.2" textLength="164.1" lengthAdjust="spacingAndGlyphs" class="b">JobOrderCandidates</text>
<text x="1670.2" y="1764" textLength="48" lengthAdjust="spacingAndGlyphs" text-anchor="end">[table]</text>
<use href="#pk" x="1448.8" y="1789.4"/>
<text x="1468.2" y="1794.3" textLength="13.2" lengthAdjust="spacingAndGlyphs">id</text>
<use href="#fk" x="1448.8" y="1818.7"/>
<text x="1468.2" y="1823.6" textLength="85.4" lengthAdjust="spacingAndGlyphs">candidateId</text>
<use href="#fk" x="1448.8" y="1848.1"/>
<text x="1468.2" y="1853" textLength="76.8" lengthAdjust="spacingAndGlyphs">jobOrderId</text>
<text x="1468.2" y="1882.3" textLength="44.5" lengthAdjust="spacingAndGlyphs">status</text>
<use href="#fk" x="1448.8" y="1906.7"/>
<text x="1468.2" y="1911.6" textLength="153.2" lengthAdjust="spacingAndGlyphs">createdByRecruiterId</text>
<use href="#fk" x="1448.8" y="1936.1"/>
<text x="1468.2" y="1941" textLength="158.3" lengthAdjust="spacingAndGlyphs">updatedByRecruiterId</text>
<use href="#fk" x="1448.8" y="1965.4"/>
<text x="1468.2" y="1970.3" textLength="159.3" lengthAdjust="spacingAndGlyphs">assignedToRecruiterId</text>
<text x="1439.4" y="1994.1" textLength="13.8" lengthAdjust="spacingAndGlyphs">...</text>
<text x="1439.9" y="2019.3" textLength="26" lengthAdjust="spacingAndGlyphs">&lt; 5</text>
<text x="1672.2" y="2019.3" textLength="26" lengthAdjust="spacingAndGlyphs" text-anchor="end">2 &gt;</text>
</g>
<g>
<rect x="1443.2" y="2057.8" width="225.5" height="224" fill="#fff"/>
<rect x="1443.2" y="2057.8" width="225.5" height="29.3" fill="#f5f5f5"/>
<path class="il" d="M1443.2 2087.1H1668.7M1443.2 2116.5H1668.7M1443.2 2145.8H1668.7M1443.2 2175.1H1668.7M1443.2 2204.5H1668.7M1443.2 2233.8H1668.7M1443.2 2257.8H1668.7"/>
<path class="vl" d="M1546.7 2257.8V2281.8M1599.4 2257.8V2281.8"/>
<rect class="ob" x="1443.2" y="2057.8" width="225.5" height="224"/>
<text x="1450.2" y="2075.6" textLength="130.4" lengthAdjust="spacingAndGlyphs" class="b">CandidateNotes</text>
<text x="1661" y="2076.4" textLength="48" lengthAdjust="spacingAndGlyphs" text-anchor="end">[table]</text>
<use href="#pk" x="1456.2" y="2101.8"/>
<text x="1469.1" y="2106.7" textLength="13.2" lengthAdjust="spacingAndGlyphs">id</text>
<use href="#fk" x="1456.2" y="2131.1"/>
<text x="1469.1" y="2136" textLength="85.4" lengthAdjust="spacingAndGlyphs">candidateId</text>
<text x="1469.1" y="2165.4" textLength="70.5" lengthAdjust="spacingAndGlyphs">createdAt</text>
<use href="#fk" x="1456.2" y="2189.8"/>
<text x="1469.1" y="2194.7" textLength="153.2" lengthAdjust="spacingAndGlyphs">createdByRecruiterId</text>
<use href="#fk" x="1456.2" y="2219.1"/>
<text x="1469.1" y="2224" textLength="158.3" lengthAdjust="spacingAndGlyphs">updatedByRecruiterId</text>
<text x="1447.7" y="2247.8" textLength="13.8" lengthAdjust="spacingAndGlyphs">...</text>
<text x="1448.2" y="2273" textLength="26" lengthAdjust="spacingAndGlyphs">&lt; 3</text>
<text x="1663" y="2273" textLength="26" lengthAdjust="spacingAndGlyphs" text-anchor="end">1 &gt;</text>
</g>
<g>
<rect x="1426.6" y="2309.1" width="258.7" height="224" fill="#fff"/>
<rect x="1426.6" y="2309.1" width="258.7" height="29.3" fill="#f5f5f5"/>
<path class="il" d="M1426.6 2338.4H1685.3M1426.6 2367.8H1685.3M1426.6 2397.1H1685.3M1426.6 2426.4H1685.3M1426.6 2455.8H1685.3M1426.6 2485.1H1685.3M1426.6 2509.1H1685.3"/>
<path class="vl" d="M1555 2509.1V2533.1M1619.7 2509.1V2533.1"/>
<rect class="ob" x="1426.6" y="2309.1" width="258.7" height="224"/>
<text x="1433.6" y="2326.9" textLength="178" lengthAdjust="spacingAndGlyphs" class="b">CandidateRelocations</text>
<text x="1677.6" y="2327.7" textLength="48" lengthAdjust="spacingAndGlyphs" text-anchor="end">[table]</text>
<use href="#pk" x="1440.4" y="2353.1"/>
<text x="1469.1" y="2358" textLength="13.2" lengthAdjust="spacingAndGlyphs">id</text>
<use href="#fk" x="1440.4" y="2382.4"/>
<text x="1469.1" y="2387.3" textLength="85.4" lengthAdjust="spacingAndGlyphs">candidateId</text>
<use href="#fk" x="1440.4" y="2411.8"/>
<text x="1469.1" y="2416.7" textLength="113.9" lengthAdjust="spacingAndGlyphs">relocationCityId</text>
<use href="#fk" x="1440.4" y="2441.1"/>
<text x="1469.1" y="2446" textLength="153.2" lengthAdjust="spacingAndGlyphs">createdByRecruiterId</text>
<use href="#fk" x="1440.4" y="2470.4"/>
<text x="1469.1" y="2475.3" textLength="158.3" lengthAdjust="spacingAndGlyphs">updatedByRecruiterId</text>
<text x="1431.1" y="2499.1" textLength="13.8" lengthAdjust="spacingAndGlyphs">...</text>
<text x="1431.6" y="2524.3" textLength="26" lengthAdjust="spacingAndGlyphs">&lt; 4</text>
</g>
<g>
<rect x="1890.4" y="2298.9" width="286.4" height="165.3" fill="#fff"/>
<rect x="1890.4" y="2298.9" width="286.4" height="29.3" fill="#f5f5f5"/>
<path class="il" d="M1890.4 2328.2H2176.8M1890.4 2357.6H2176.8M1890.4 2386.9H2176.8M1890.4 2416.2H2176.8M1890.4 2440.2H2176.8"/>
<path class="vl" d="M2030.9 2440.2V2464.2M2103.8 2440.2V2464.2"/>
<rect class="ob" x="1890.4" y="2298.9" width="286.4" height="165.3"/>
<text x="1897.4" y="2316.7" textLength="203" lengthAdjust="spacingAndGlyphs" class="b">CandidateNoteJobOrders</text>
<text x="2169.1" y="2317.5" textLength="48" lengthAdjust="spacingAndGlyphs" text-anchor="end">[table]</text>
<use href="#pk" x="1904.3" y="2342.9"/>
<text x="1934.8" y="2347.8" textLength="13.2" lengthAdjust="spacingAndGlyphs">id</text>
<use href="#fk" x="1904.3" y="2372.2"/>
<text x="1934.8" y="2377.1" textLength="119.7" lengthAdjust="spacingAndGlyphs">candidateNoteId</text>
<use href="#fk" x="1904.3" y="2401.6"/>
<text x="1934.8" y="2406.5" textLength="76.8" lengthAdjust="spacingAndGlyphs">jobOrderId</text>
<text x="1894.9" y="2430.2" textLength="13.8" lengthAdjust="spacingAndGlyphs">...</text>
<text x="1895.4" y="2455.4" textLength="26" lengthAdjust="spacingAndGlyphs">&lt; 2</text>
</g>
<g>
<rect x="1390.5" y="2561.3" width="331.7" height="224" fill="#fff"/>
<rect x="1390.5" y="2561.3" width="331.7" height="29.3" fill="#f5f5f5"/>
<path class="il" d="M1390.5 2590.6H1722.2M1390.5 2620H1722.2M1390.5 2649.3H1722.2M1390.5 2678.6H1722.2M1390.5 2708H1722.2M1390.5 2737.3H1722.2M1390.5 2761.3H1722.2"/>
<path class="vl" d="M1555 2761.3V2785.3M1638.2 2761.3V2785.3"/>
<rect class="ob" x="1390.5" y="2561.3" width="331.7" height="224"/>
<text x="1397.5" y="2579.1" textLength="242.5" lengthAdjust="spacingAndGlyphs" class="b">TalentConsultantNotifications</text>
<text x="1714.5" y="2579.9" textLength="48" lengthAdjust="spacingAndGlyphs" text-anchor="end">[table]</text>
<use href="#pk" x="1404.4" y="2605.3"/>
<text x="1434.9" y="2610.2" textLength="13.2" lengthAdjust="spacingAndGlyphs">id</text>
<use href="#fk" x="1404.4" y="2634.6"/>
<text x="1434.9" y="2639.5" textLength="75.7" lengthAdjust="spacingAndGlyphs">recruiterId</text>
<use href="#fk" x="1404.4" y="2664"/>
<text x="1434.9" y="2668.9" textLength="76.8" lengthAdjust="spacingAndGlyphs">jobOrderId</text>
<use href="#fk" x="1404.4" y="2693.3"/>
<text x="1434.9" y="2698.2" textLength="85.4" lengthAdjust="spacingAndGlyphs">candidateId</text>
<text x="1434.9" y="2727.5" textLength="70.5" lengthAdjust="spacingAndGlyphs">createdAt</text>
<text x="1395" y="2751.3" textLength="13.8" lengthAdjust="spacingAndGlyphs">...</text>
<text x="1395.5" y="2776.5" textLength="26" lengthAdjust="spacingAndGlyphs">&lt; 3</text>
</g>
<g>
<rect x="1430.3" y="2848.8" width="252.2" height="224" fill="#fff"/>
<rect x="1430.3" y="2848.8" width="252.2" height="29.3" fill="#f5f5f5"/>
<path class="il" d="M1430.3 2878.1H1682.5M1430.3 2907.5H1682.5M1430.3 2936.8H1682.5M1430.3 2966.1H1682.5M1430.3 2995.5H1682.5M1430.3 3024.8H1682.5M1430.3 3048.8H1682.5"/>
<path class="vl" d="M1555 3048.8V3072.8M1618.8 3048.8V3072.8"/>
<rect class="ob" x="1430.3" y="2848.8" width="252.2" height="224"/>
<text x="1437.3" y="2866.6" textLength="171.6" lengthAdjust="spacingAndGlyphs" class="b">CandidateLanguages</text>
<text x="1674.8" y="2867.4" textLength="48" lengthAdjust="spacingAndGlyphs" text-anchor="end">[table]</text>
<use href="#fk" x="1445" y="2892.8"/>
<text x="1471" y="2897.7" textLength="85.4" lengthAdjust="spacingAndGlyphs">candidateId</text>
<use href="#fk" x="1445" y="2922.1"/>
<text x="1471" y="2927" textLength="104.6" lengthAdjust="spacingAndGlyphs">languageCode</text>
<use href="#pk" x="1445" y="2951.5"/>
<text x="1471" y="2956.4" textLength="13.2" lengthAdjust="spacingAndGlyphs">id</text>
<use href="#fk" x="1445" y="2980.8"/>
<text x="1471" y="2985.7" textLength="153.2" lengthAdjust="spacingAndGlyphs">createdByRecruiterId</text>
<use href="#fk" x="1445" y="3010.1"/>
<text x="1471" y="3015" textLength="158.3" lengthAdjust="spacingAndGlyphs">updatedByRecruiterId</text>
<text x="1434.8" y="3038.8" textLength="13.8" lengthAdjust="spacingAndGlyphs">...</text>
<text x="1435.3" y="3064" textLength="26" lengthAdjust="spacingAndGlyphs">&lt; 4</text>
</g>
<g>
<rect x="1920" y="2975.3" width="226.4" height="224" fill="#fff"/>
<rect x="1920" y="2975.3" width="226.4" height="29.3" fill="#f5f5f5"/>
<path class="il" d="M1920 3004.6H2146.4M1920 3034H2146.4M1920 3063.3H2146.4M1920 3092.6H2146.4M1920 3122H2146.4M1920 3151.3H2146.4M1920 3175.3H2146.4"/>
<path class="vl" d="M2030.9 3175.3V3199.3M2089.1 3175.3V3199.3"/>
<rect class="ob" x="1920" y="2975.3" width="226.4" height="224"/>
<text x="1927" y="2993.1" textLength="126.6" lengthAdjust="spacingAndGlyphs" class="b">CandidateSkills</text>
<text x="2138.7" y="2993.9" textLength="48" lengthAdjust="spacingAndGlyphs" text-anchor="end">[table]</text>
<use href="#fk" x="1933.8" y="3019.3"/>
<text x="1946.8" y="3024.2" textLength="85.4" lengthAdjust="spacingAndGlyphs">candidateId</text>
<use href="#fk" x="1933.8" y="3048.6"/>
<text x="1946.8" y="3053.5" textLength="41.5" lengthAdjust="spacingAndGlyphs">skillId</text>
<use href="#pk" x="1933.8" y="3078"/>
<text x="1946.8" y="3082.9" textLength="13.2" lengthAdjust="spacingAndGlyphs">id</text>
<use href="#fk" x="1933.8" y="3107.3"/>
<text x="1946.8" y="3112.2" textLength="153.2" lengthAdjust="spacingAndGlyphs">createdByRecruiterId</text>
<use href="#fk" x="1933.8" y="3136.6"/>
<text x="1946.8" y="3141.5" textLength="158.3" lengthAdjust="spacingAndGlyphs">updatedByRecruiterId</text>
<text x="1924.5" y="3165.3" textLength="13.8" lengthAdjust="spacingAndGlyphs">...</text>
<text x="1925" y="3190.5" textLength="26" lengthAdjust="spacingAndGlyphs">&lt; 4</text>
</g>
<g>
<rect x="1365.6" y="3173.1" width="382.5" height="224" fill="#fff"/>
<rect x="1365.6" y="3173.1" width="382.5" height="29.3" fill="#f5f5f5"/>
<path class="il" d="M1365.6 3202.4H1748.1M1365.6 3231.8H1748.1M1365.6 3261.1H1748.1M1365.6 3290.4H1748.1M1365.6 3319.8H1748.1M1365.6 3349.1H1748.1M1365.6 3373.1H1748.1"/>
<path class="vl" d="M1546.7 3373.1V3397.1M1638.2 3373.1V3397.1"/>
<rect class="ob" x="1365.6" y="3173.1" width="382.5" height="224"/>
<text x="1372.6" y="3190.9" textLength="290.3" lengthAdjust="spacingAndGlyphs" class="b">InferredCandidateWorkExperiences</text>
<text x="1740.4" y="3191.7" textLength="48" lengthAdjust="spacingAndGlyphs" text-anchor="end">[table]</text>
<use href="#pk" x="1378.5" y="3217.1"/>
<text x="1409" y="3222" textLength="13.2" lengthAdjust="spacingAndGlyphs">id</text>
<use href="#fk" x="1378.5" y="3246.4"/>
<text x="1409" y="3251.3" textLength="186.7" lengthAdjust="spacingAndGlyphs">hierarchicalJobCategoryId</text>
<text x="1409" y="3280.7" textLength="107.6" lengthAdjust="spacingAndGlyphs">originalJobTitle</text>
<text x="1409" y="3310" textLength="70.5" lengthAdjust="spacingAndGlyphs">createdAt</text>
<use href="#fk" x="1378.5" y="3334.4"/>
<text x="1409" y="3339.3" textLength="144.3" lengthAdjust="spacingAndGlyphs">inferredCandidateId</text>
<text x="1370.1" y="3363.1" textLength="13.8" lengthAdjust="spacingAndGlyphs">...</text>
<text x="1370.6" y="3388.3" textLength="26" lengthAdjust="spacingAndGlyphs">&lt; 2</text>
<text x="1742.4" y="3388.3" textLength="26" lengthAdjust="spacingAndGlyphs" text-anchor="end">1 &gt;</text>
</g>
<g>
<rect x="1370.2" y="3425.3" width="372.4" height="224" fill="#fff"/>
<rect x="1370.2" y="3425.3" width="372.4" height="29.3" fill="#f5f5f5"/>
<path class="il" d="M1370.2 3454.6H1742.6M1370.2 3484H1742.6M1370.2 3513.3H1742.6M1370.2 3542.6H1742.6M1370.2 3572H1742.6M1370.2 3601.3H1742.6M1370.2 3625.3H1742.6"/>
<path class="vl" d="M1555 3625.3V3649.3M1648.3 3625.3V3649.3"/>
<rect class="ob" x="1370.2" y="3425.3" width="372.4" height="224"/>
<text x="1377.2" y="3443.1" textLength="280.9" lengthAdjust="spacingAndGlyphs" class="b">CandidateJobCategoryPreferences</text>
<text x="1734.9" y="3443.9" textLength="48" lengthAdjust="spacingAndGlyphs" text-anchor="end">[table]</text>
<use href="#fk" x="1384.1" y="3469.3"/>
<text x="1414.6" y="3474.2" textLength="85.4" lengthAdjust="spacingAndGlyphs">candidateId</text>
<use href="#fk" x="1384.1" y="3498.6"/>
<text x="1414.6" y="3503.5" textLength="186.7" lengthAdjust="spacingAndGlyphs">hierarchicalJobCategoryId</text>
<use href="#pk" x="1384.1" y="3528"/>
<text x="1414.6" y="3532.9" textLength="13.2" lengthAdjust="spacingAndGlyphs">id</text>
<use href="#fk" x="1384.1" y="3557.3"/>
<text x="1414.6" y="3562.2" textLength="153.2" lengthAdjust="spacingAndGlyphs">createdByRecruiterId</text>
<use href="#fk" x="1384.1" y="3586.6"/>
<text x="1414.6" y="3591.5" textLength="158.3" lengthAdjust="spacingAndGlyphs">updatedByRecruiterId</text>
<text x="1374.7" y="3615.3" textLength="13.8" lengthAdjust="spacingAndGlyphs">...</text>
<text x="1375.2" y="3640.5" textLength="26" lengthAdjust="spacingAndGlyphs">&lt; 4</text>
</g>
<g>
<rect x="1883" y="3412.4" width="302.1" height="224" fill="#fff"/>
<rect x="1883" y="3412.4" width="302.1" height="29.3" fill="#f5f5f5"/>
<path class="il" d="M1883 3441.7H2185.1M1883 3471.1H2185.1M1883 3500.4H2185.1M1883 3529.7H2185.1M1883 3559.1H2185.1M1883 3588.4H2185.1M1883 3612.4H2185.1"/>
<path class="vl" d="M2030.9 3612.4V3636.4M2107.5 3612.4V3636.4"/>
<rect class="ob" x="1883" y="3412.4" width="302.1" height="224"/>
<text x="1890" y="3430.2" textLength="192.9" lengthAdjust="spacingAndGlyphs" class="b">InferredCandidateSkills</text>
<text x="2177.4" y="3431" textLength="48" lengthAdjust="spacingAndGlyphs" text-anchor="end">[table]</text>
<use href="#pk" x="1896" y="3456.4"/>
<text x="1909.8" y="3461.3" textLength="13.2" lengthAdjust="spacingAndGlyphs">id</text>
<use href="#fk" x="1896" y="3485.7"/>
<text x="1909.8" y="3490.6" textLength="144.3" lengthAdjust="spacingAndGlyphs">inferredCandidateId</text>
<text x="1909.8" y="3520" textLength="57.3" lengthAdjust="spacingAndGlyphs">skillText</text>
<use href="#fk" x="1896" y="3544.4"/>
<text x="1909.8" y="3549.3" textLength="41.5" lengthAdjust="spacingAndGlyphs">skillId</text>
<use href="#fk" x="1896" y="3573.7"/>
<text x="1909.8" y="3578.6" textLength="123.7" lengthAdjust="spacingAndGlyphs">normalizedSkillId</text>
<text x="1887.5" y="3602.4" textLength="13.8" lengthAdjust="spacingAndGlyphs">...</text>
<text x="1888" y="3627.6" textLength="26" lengthAdjust="spacingAndGlyphs">&lt; 3</text>
</g>
<g>
<rect x="1470.9" y="3676.7" width="170" height="77.3" fill="#fff"/>
<rect x="1470.9" y="3676.7" width="170" height="29.3" fill="#f5f5f5"/>
<path class="il" d="M1470.9 3706H1640.9M1470.9 3730H1640.9"/>
<path class="vl" d="M1538.4 3730V3754M1580.9 3730V3754"/>
<rect class="ob" x="1470.9" y="3676.7" width="170" height="77.3"/>
<text x="1477.9" y="3694.5" textLength="98.7" lengthAdjust="spacingAndGlyphs" class="b">public.Skills</text>
<text x="1633.2" y="3695.3" textLength="48" lengthAdjust="spacingAndGlyphs" text-anchor="end">[table]</text>
<text x="1475.4" y="3720" textLength="13.8" lengthAdjust="spacingAndGlyphs">...</text>
<text x="1635.2" y="3745.2" textLength="26" lengthAdjust="spacingAndGlyphs" text-anchor="end">4 &gt;</text>
</g>
<g>
<rect x="1823" y="3664.7" width="421.3" height="194.7" fill="#fff"/>
<rect x="1823" y="3664.7" width="421.3" height="29.3" fill="#f5f5f5"/>
<path class="il" d="M1823 3694H2244.3M1823 3723.4H2244.3M1823 3752.7H2244.3M1823 3782H2244.3M1823 3811.4H2244.3M1823 3835.4H2244.3"/>
<path class="vl" d="M2030.9 3835.4V3859.4M2137.1 3835.4V3859.4"/>
<rect class="ob" x="1823" y="3664.7" width="421.3" height="194.7"/>
<text x="1830" y="3682.5" textLength="325.3" lengthAdjust="spacingAndGlyphs" class="b">InferredCandidateWorkExperienceSkills</text>
<text x="2236.6" y="3683.3" textLength="48" lengthAdjust="spacingAndGlyphs" text-anchor="end">[table]</text>
<use href="#pk" x="1836.8" y="3708.7"/>
<text x="1866.4" y="3713.6" textLength="13.2" lengthAdjust="spacingAndGlyphs">id</text>
<use href="#fk" x="1836.8" y="3738"/>
<text x="1866.4" y="3742.9" textLength="261.8" lengthAdjust="spacingAndGlyphs">inferredCandidateWorkExperienceId</text>
<use href="#fk" x="1836.8" y="3767.4"/>
<text x="1866.4" y="3772.3" textLength="41.5" lengthAdjust="spacingAndGlyphs">skillId</text>
<use href="#fk" x="1836.8" y="3796.7"/>
<text x="1866.4" y="3801.6" textLength="123.7" lengthAdjust="spacingAndGlyphs">normalizedSkillId</text>
<text x="1827.5" y="3825.4" textLength="13.8" lengthAdjust="spacingAndGlyphs">...</text>
<text x="1828" y="3850.6" textLength="26" lengthAdjust="spacingAndGlyphs">&lt; 3</text>
</g>
<g>
<rect x="1391.5" y="3782" width="329.8" height="224" fill="#fff"/>
<rect x="1391.5" y="3782" width="329.8" height="29.3" fill="#f5f5f5"/>
<path class="il" d="M1391.5 3811.3H1721.3M1391.5 3840.7H1721.3M1391.5 3870H1721.3M1391.5 3899.3H1721.3M1391.5 3928.7H1721.3M1391.5 3958H1721.3M1391.5 3982H1721.3"/>
<path class="vl" d="M1555 3982V4006M1637.3 3982V4006"/>
<rect class="ob" x="1391.5" y="3782" width="329.8" height="224"/>
<text x="1398.5" y="3799.8" textLength="241.8" lengthAdjust="spacingAndGlyphs" class="b">CandidateWorkArrangements</text>
<text x="1713.6" y="3800.6" textLength="48" lengthAdjust="spacingAndGlyphs" text-anchor="end">[table]</text>
<use href="#fk" x="1405.3" y="3826"/>
<text x="1435.8" y="3830.9" textLength="85.4" lengthAdjust="spacingAndGlyphs">candidateId</text>
<text x="1435.8" y="3860.2" textLength="164" lengthAdjust="spacingAndGlyphs">workArrangementType</text>
<use href="#pk" x="1405.3" y="3884.7"/>
<text x="1435.8" y="3889.6" textLength="13.2" lengthAdjust="spacingAndGlyphs">id</text>
<use href="#fk" x="1405.3" y="3914"/>
<text x="1435.8" y="3918.9" textLength="153.2" lengthAdjust="spacingAndGlyphs">createdByRecruiterId</text>
<use href="#fk" x="1405.3" y="3943.3"/>
<text x="1435.8" y="3948.2" textLength="158.3" lengthAdjust="spacingAndGlyphs">updatedByRecruiterId</text>
<text x="1396" y="3972" textLength="13.8" lengthAdjust="spacingAndGlyphs">...</text>
<text x="1396.5" y="3997.2" textLength="26" lengthAdjust="spacingAndGlyphs">&lt; 3</text>
</g>
<g>
<rect x="1859.9" y="3940.9" width="348.4" height="194.7" fill="#fff"/>
<rect x="1859.9" y="3940.9" width="348.4" height="29.3" fill="#f5f5f5"/>
<path class="il" d="M1859.9 3970.2H2208.3M1859.9 3999.6H2208.3M1859.9 4028.9H2208.3M1859.9 4058.2H2208.3M1859.9 4087.6H2208.3M1859.9 4111.6H2208.3"/>
<path class="vl" d="M2030.9 4111.6V4135.6M2119.6 4111.6V4135.6"/>
<rect class="ob" x="1859.9" y="3940.9" width="348.4" height="194.7"/>
<text x="1866.9" y="3958.7" textLength="258.9" lengthAdjust="spacingAndGlyphs" class="b">CandidateWorkExperienceSkills</text>
<text x="2200.6" y="3959.5" textLength="48" lengthAdjust="spacingAndGlyphs" text-anchor="end">[table]</text>
<use href="#pk" x="1873.8" y="3984.9"/>
<text x="1904.3" y="3989.8" textLength="13.2" lengthAdjust="spacingAndGlyphs">id</text>
<use href="#fk" x="1873.8" y="4014.2"/>
<text x="1904.3" y="4019.1" textLength="202.9" lengthAdjust="spacingAndGlyphs">candidateWorkExperienceId</text>
<use href="#fk" x="1873.8" y="4043.6"/>
<text x="1904.3" y="4048.5" textLength="41.5" lengthAdjust="spacingAndGlyphs">skillId</text>
<use href="#fk" x="1873.8" y="4072.9"/>
<text x="1904.3" y="4077.8" textLength="123.7" lengthAdjust="spacingAndGlyphs">normalizedSkillId</text>
<text x="1864.4" y="4101.6" textLength="13.8" lengthAdjust="spacingAndGlyphs">...</text>
<text x="1864.9" y="4126.8" textLength="26" lengthAdjust="spacingAndGlyphs">&lt; 3</text>
</g>
<g>
<rect x="1419.2" y="4034.3" width="273.5" height="77.3" fill="#fff"/>
<rect x="1419.2" y="4034.3" width="273.5" height="29.3" fill="#f5f5f5"/>
<path class="il" d="M1419.2 4063.6H1692.7M1419.2 4087.6H1692.7"/>
<path class="vl" d="M1538.4 4087.6V4111.6M1607.7 4087.6V4111.6"/>
<rect class="ob" x="1419.2" y="4034.3" width="273.5" height="77.3"/>
<text x="1426.2" y="4052.1" textLength="191.4" lengthAdjust="spacingAndGlyphs" class="b">public.NormalizedSkills</text>
<text x="1685" y="4052.9" textLength="48" lengthAdjust="spacingAndGlyphs" text-anchor="end">[table]</text>
<text x="1423.7" y="4077.6" textLength="13.8" lengthAdjust="spacingAndGlyphs">...</text>
<text x="1687" y="4102.8" textLength="26" lengthAdjust="spacingAndGlyphs" text-anchor="end">3 &gt;</text>
</g>
<g>
<rect x="1400.7" y="4139.6" width="310.5" height="312" fill="#fff"/>
<rect x="1400.7" y="4139.6" width="310.5" height="29.3" fill="#f5f5f5"/>
<path class="il" d="M1400.7 4168.9H1711.2M1400.7 4198.3H1711.2M1400.7 4227.6H1711.2M1400.7 4256.9H1711.2M1400.7 4286.3H1711.2M1400.7 4315.6H1711.2M1400.7 4344.9H1711.2M1400.7 4374.3H1711.2M1400.7 4403.6H1711.2M1400.7 4427.6H1711.2"/>
<path class="vl" d="M1546.7 4427.6V4451.6M1619.7 4427.6V4451.6"/>
<rect class="ob" x="1400.7" y="4139.6" width="310.5" height="312"/>
<text x="1407.7" y="4157.4" textLength="223.9" lengthAdjust="spacingAndGlyphs" class="b">CandidateWorkExperiences</text>
<text x="1703.5" y="4158.2" textLength="48" lengthAdjust="spacingAndGlyphs" text-anchor="end">[table]</text>
<use href="#pk" x="1414.6" y="4183.6"/>
<text x="1445.1" y="4188.5" textLength="13.2" lengthAdjust="spacingAndGlyphs">id</text>
<use href="#fk" x="1414.6" y="4212.9"/>
<text x="1445.1" y="4217.8" textLength="85.4" lengthAdjust="spacingAndGlyphs">candidateId</text>
<text x="1445.1" y="4247.2" textLength="70.5" lengthAdjust="spacingAndGlyphs">createdAt</text>
<use href="#fk" x="1414.6" y="4271.6"/>
<text x="1445.1" y="4276.5" textLength="153.2" lengthAdjust="spacingAndGlyphs">createdByRecruiterId</text>
<use href="#fk" x="1414.6" y="4300.9"/>
<text x="1445.1" y="4305.8" textLength="158.3" lengthAdjust="spacingAndGlyphs">updatedByRecruiterId</text>
<use href="#fk" x="1414.6" y="4330.3"/>
<text x="1445.1" y="4335.2" textLength="186.7" lengthAdjust="spacingAndGlyphs">hierarchicalJobCategoryId</text>
<use href="#fk" x="1414.6" y="4359.6"/>
<text x="1445.1" y="4364.5" textLength="72.8" lengthAdjust="spacingAndGlyphs">industryId</text>
<use href="#fk" x="1414.6" y="4388.9"/>
<text x="1445.1" y="4393.8" textLength="95.5" lengthAdjust="spacingAndGlyphs">inferredHJCId</text>
<text x="1405.2" y="4417.6" textLength="13.8" lengthAdjust="spacingAndGlyphs">...</text>
<text x="1405.7" y="4442.8" textLength="26" lengthAdjust="spacingAndGlyphs">&lt; 6</text>
<text x="1705.5" y="4442.8" textLength="26" lengthAdjust="spacingAndGlyphs" text-anchor="end">1 &gt;</text>
</g>
<g>
<rect x="931.3" y="4137.8" width="357.6" height="77.3" fill="#fff"/>
<rect x="931.3" y="4137.8" width="357.6" height="29.3" fill="#f5f5f5"/>
<path class="il" d="M931.3 4167.1H1288.9M931.3 4191.1H1288.9"/>
<path class="vl" d="M1093 4191.1V4215.1M1182.7 4191.1V4215.1"/>
<rect class="ob" x="931.3" y="4137.8" width="357.6" height="77.3"/>
<text x="938.3" y="4155.6" textLength="267.1" lengthAdjust="spacingAndGlyphs" class="b">public.HierarchicalJobCategories</text>
<text x="1281.2" y="4156.4" textLength="48" lengthAdjust="spacingAndGlyphs" text-anchor="end">[table]</text>
<text x="935.8" y="4181.1" textLength="13.8" lengthAdjust="spacingAndGlyphs">...</text>
<text x="1283.2" y="4206.3" textLength="26" lengthAdjust="spacingAndGlyphs" text-anchor="end">6 &gt;</text>
</g>
<g>
<rect x="991.4" y="4320.8" width="237.5" height="77.3" fill="#fff"/>
<rect x="991.4" y="4320.8" width="237.5" height="29.3" fill="#f5f5f5"/>
<path class="il" d="M991.4 4350.1H1228.9M991.4 4374.1H1228.9"/>
<path class="vl" d="M1093 4374.1V4398.1M1153.1 4374.1V4398.1"/>
<rect class="ob" x="991.4" y="4320.8" width="237.5" height="77.3"/>
<text x="998.4" y="4338.6" textLength="158.9" lengthAdjust="spacingAndGlyphs" class="b">public.IndustriesV2</text>
<text x="1221.2" y="4339.4" textLength="48" lengthAdjust="spacingAndGlyphs" text-anchor="end">[table]</text>
<text x="995.9" y="4364.1" textLength="13.8" lengthAdjust="spacingAndGlyphs">...</text>
<text x="1223.2" y="4389.3" textLength="26" lengthAdjust="spacingAndGlyphs" text-anchor="end">1 &gt;</text>
</g>
<g>
<rect x="1373" y="4479.7" width="365.9" height="224" fill="#fff"/>
<rect x="1373" y="4479.7" width="365.9" height="29.3" fill="#f5f5f5"/>
<path class="il" d="M1373 4509H1738.9M1373 4538.4H1738.9M1373 4567.7H1738.9M1373 4597H1738.9M1373 4626.4H1738.9M1373 4655.7H1738.9M1373 4679.7H1738.9"/>
<path class="vl" d="M1555 4679.7V4703.7M1646.5 4679.7V4703.7"/>
<rect class="ob" x="1373" y="4479.7" width="365.9" height="224"/>
<text x="1380" y="4497.5" textLength="275" lengthAdjust="spacingAndGlyphs" class="b">CandidatePreferredJobCategories</text>
<text x="1731.2" y="4498.3" textLength="48" lengthAdjust="spacingAndGlyphs" text-anchor="end">[table]</text>
<use href="#pk" x="1386.9" y="4523.7"/>
<text x="1417.4" y="4528.6" textLength="13.2" lengthAdjust="spacingAndGlyphs">id</text>
<use href="#fk" x="1386.9" y="4553"/>
<text x="1417.4" y="4557.9" textLength="85.4" lengthAdjust="spacingAndGlyphs">candidateId</text>
<use href="#fk" x="1386.9" y="4582.4"/>
<text x="1417.4" y="4587.3" textLength="186.7" lengthAdjust="spacingAndGlyphs">hierarchicalJobCategoryId</text>
<use href="#fk" x="1386.9" y="4611.7"/>
<text x="1417.4" y="4616.6" textLength="153.2" lengthAdjust="spacingAndGlyphs">createdByRecruiterId</text>
<use href="#fk" x="1386.9" y="4641"/>
<text x="1417.4" y="4645.9" textLength="158.3" lengthAdjust="spacingAndGlyphs">updatedByRecruiterId</text>
<text x="1377.5" y="4669.7" textLength="13.8" lengthAdjust="spacingAndGlyphs">...</text>
<text x="1378" y="4694.9" textLength="26" lengthAdjust="spacingAndGlyphs">&lt; 4</text>
</g>
<g class="e">
<path d="M272.6 364.6C284.9 364.6 297.2 358.9 307.2 351.7C317.1 344.6 321.7 332 330.1 323.1C338.9 313.8 349.2 305.9 358.7 297.3C370.2 286.9 381.9 276.6 393.1 265.9C402.9 256.6 411.5 246.1 421.7 237.2C428.7 231.1 436.2 225.2 444.6 221.2C451.3 218 458.8 215.8 466.3 215.8"/>
<path d="M272.6 364.6C284.2 364.6 295.8 362.7 307.2 360.3C322.7 357 337.4 350.3 353 347.7C394.7 340.7 436.8 336 478.9 331.7C536.1 325.9 593.5 323.1 650.7 317.4C708 311.7 766.5 311.4 822.4 297.3C927 271 1028.6 233.5 1130 196.8C1162.1 185.2 1190.6 164.9 1222.4 152.5C1252.4 140.8 1283.5 132.1 1314.8 124.7C1336 119.7 1357.8 117.8 1379.5 115.5C1394.3 113.9 1409.1 112.9 1424 112.9"/>
<path d="M272.6 364.6C341.4 364.6 410.1 365.6 478.9 364.9C555.2 364.1 631.6 362.9 707.9 360.3C788.6 357.5 869.3 353.6 950 348.8C1010.1 345.3 1070 339.6 1130 335.4C1191.6 331.1 1253.3 329.1 1314.8 323.4C1336.6 321.4 1357.9 315.7 1379.5 312.3C1394.9 309.9 1410.2 306.1 1425.8 306.1"/>
<path d="M264.3 882C276.9 882 290.2 880.6 301.3 874.7C314.1 867.9 325.3 857.4 333.2 845.3C341.3 833 345 818.1 347.9 803.6C351.6 785.1 352 766.1 352.8 747.2C353.8 722.7 352.8 698.1 353.3 673.6C353.6 657.2 354.3 640.9 355.3 624.5C356.1 609.9 354.5 594.7 358.7 580.7C363.4 565.2 371 550 381.6 537.7C387.1 531.4 396.6 530.1 404.5 527.4C410 525.6 415.7 524.2 421.5 524.2"/>
<path d="M264.3 882C280.8 882 297.2 882.9 313.6 884.5C330 886.2 346.3 889.2 362.6 891.9C379 894.6 395.3 898.1 411.7 900.5C423.9 902.3 436.2 903.6 448.5 904.7C458.9 905.6 469.3 906.5 479.7 906.5"/>
<path d="M276.8 1005.8C285 1002.5 293.2 999.4 301.3 995.9C305.5 994.1 310 992.8 313.6 990C322.4 983.3 330.3 975.7 338.1 967.9C351.6 954.4 365 940.7 377.4 926.2C389.5 912.1 398.3 895 411.7 882.1C422.3 871.9 435.3 864.2 448.5 857.6C458.2 852.7 468.8 847.8 479.7 847.8"/>
<path d="M276.8 1116.1C287.4 1111.6 298.7 1108.4 308.7 1102.6C319.3 1096.5 329.4 1089.3 338.1 1080.6C347.6 1071.1 355.9 1060.3 362.6 1048.7C369.2 1037.2 373.4 1024.5 377.4 1011.9C380.7 1001.5 382.3 990.6 384.7 980C385.6 976 386.3 971.9 387.2 967.9C390.4 954 393.3 940 397 926.2C401.4 909.7 405 892.9 411.7 877.2C416.6 865.7 423.2 854.8 431.3 845.3C438.1 837.3 446.7 830.8 455.9 825.7C463.2 821.7 471.4 818.5 479.7 818.5"/>
<path d="M248.6 1252.8C258 1246.9 267.8 1241.6 276.8 1235.1C289.5 1225.9 302.3 1216.6 313.6 1205.7C322.8 1196.8 331.2 1187 338.1 1176.2C346 1163.9 352 1150.5 357.7 1137C365.1 1119.3 370.8 1101 377.4 1083C383.9 1065 390.6 1047.1 397 1029.1C402.8 1012.8 408.5 996.4 414.2 980C415 977.6 415.6 975.2 416.6 972.9C422.9 958.9 428.5 944.5 436.2 931.2C443.3 919 451.4 907.3 460.8 896.8C466.2 890.8 472.3 883.9 480.3 882.1"/>
<path d="M276.8 1076.9C289.1 1081.4 301.8 1084.7 313.6 1090.4C326.5 1096.6 339 1103.8 350.4 1112.5C363.7 1122.7 375.1 1135.1 387.2 1146.8C399.7 1158.9 410.5 1172.8 424 1183.6C435.2 1192.5 447.7 1199.9 460.8 1205.7C471.1 1210.3 482.3 1214.5 493.6 1214.5"/>
<path d="M265.8 1190.5C281.7 1196.4 297.5 1202.8 313.6 1208.1C337.9 1216.1 362.2 1224.6 387.2 1230.2C411.4 1235.6 436.2 1238 460.8 1241.2C471.7 1242.6 482.6 1243.9 493.6 1243.9"/>
<path d="M258.4 1287.1C293.1 1284.1 327.8 1280.3 362.6 1278C395.3 1275.8 428.1 1274.8 460.8 1273.6C471.7 1273.2 482.7 1273.2 493.6 1273.2"/>
<path d="M276.8 1018.8C285 1014.9 294.3 1012.7 301.3 1007C309.4 1000.4 314.8 991.2 320.9 982.7C327.1 974 333.3 965.2 338.1 955.7C342 948 345.1 939.7 346.7 931.2C349 919.1 350.1 906.7 349.9 894.4C349.7 882 347.6 869.8 345.5 857.6C342.4 839.5 338.2 821.6 334.4 803.6C331.3 788.8 327.2 774.3 324.6 759.4C322.7 748.9 320.9 738.3 320.9 727.6C320.9 717.7 321.8 707.6 324.6 698.1C327.6 687.7 332.2 677.8 338.1 668.7C344.6 658.6 353.6 650.4 361.4 641.2M361.4 641.2C534.1 629.6 707 619.9 879.6 606.4C903.3 604.5 926.3 597 950 595C1088.2 583.4 1226.3 565.6 1364.9 565.6"/>
<path d="M276.8 1123.5C283.3 1119.8 290.2 1116.7 296.4 1112.5C304.1 1107.3 312.4 1102.3 318.5 1095.3C324.1 1089 328.1 1081.2 330.8 1073.2C334.3 1063 335.6 1052 336.9 1041.3C338.4 1029.1 339.1 1016.8 339.3 1004.5C339.5 984.1 338.8 963.8 338.1 943.4C337.6 927.1 336.4 910.7 335.7 894.4C334.7 869.9 333.7 845.3 333.2 820.8C332.9 804.4 332.4 788 333.2 771.7C334 755.3 335.2 738.8 338.1 722.6C340.1 711.7 342.7 700.6 347.9 690.8C352.7 681.8 358.7 672.5 367.6 667.5C380.9 660.1 396.5 656.1 411.7 655.2C567.5 646.2 723.7 644.6 879.6 637.9C903.1 636.9 926.5 634.3 950 632.2C1088.3 619.9 1226 594.9 1364.9 594.9"/>
<path d="M258.5 1327C297.7 1336.2 336.6 1347 376.2 1354.5C419.5 1362.7 463.3 1369 507.1 1374.1C550.6 1379.2 594.2 1383.1 637.9 1385.2C670.6 1386.8 703.4 1387.3 736 1385.2C760.2 1383.6 784.6 1380.5 808 1374.1C826.4 1369.1 844.9 1362.4 860.3 1351.2C874 1341.2 884.4 1326.7 893 1312C900 1300.1 906.1 1286.5 906.1 1272.7C905.8 1164.9 893.4 1057.3 892.1 949.5C891.8 926.4 897.6 903.6 901.2 880.8C903.7 865.4 905.2 849.7 910.4 835C914.5 823.4 920 811.6 928.7 802.9C937.4 794.2 949.6 789.9 960.7 784.6C987.8 771.6 1015.5 759.7 1043.2 748C1073.5 735.3 1104.2 723.6 1134.7 711.4C1165.2 699.2 1195.6 686.6 1226.3 674.7C1256.7 662.9 1287 650.8 1317.9 640.4C1333.4 635.2 1349.2 630.9 1365.2 628.1"/>
<path d="M1262.6 1398.5C1273.9 1398.5 1285.8 1396.9 1296 1392C1307.5 1386.4 1320.8 1379.7 1326 1368C1335.3 1347 1334.7 1322.8 1337 1300C1339 1280 1338.7 1259.9 1339.1 1239.8C1339.4 1223 1339.6 1206.1 1339.1 1189.3C1338.2 1160.5 1336.5 1131.8 1334.8 1103.1C1333.1 1074.4 1331.4 1045.6 1329 1016.9C1326.6 988.2 1323 959.5 1320.4 930.8C1317.8 902.1 1315.2 873.4 1313.2 844.6C1311.9 825.5 1310.6 806.4 1310.4 787.2C1310.1 758.5 1310.7 729.7 1311.8 701C1312.6 681.8 1313.4 662.6 1316.1 643.6C1318.2 629 1321.8 614.6 1326.2 600.5C1329.9 588.7 1334.1 576.8 1340.5 566.1C1345.7 557.4 1353.6 550.5 1360.6 543.1C1361.9 541.8 1363.4 540.4 1365.2 540.1"/>
<path d="M276.8 1046.2C364.5 1051.1 452.3 1055.3 540 1060.9C590.2 1064.1 640.3 1068.4 690.4 1072.8C728.1 1076.1 765.7 1079.8 803.3 1084.1C825.9 1086.7 849.2 1086.9 871 1093.5C879.1 1096 885.8 1103 889.8 1110.4C896 1121.9 898.1 1135.2 900.3 1148.1C903.4 1166.7 904.3 1185.7 905.6 1204.5C907.3 1229.5 908.8 1254.6 909.4 1279.7C910.3 1322.5 907.4 1365.5 910.1 1408.2C911.7 1433.1 915.5 1458 922.1 1482.1C924.9 1492.1 928.1 1505.8 938 1509"/>
<path d="M276.8 1133.3C305.4 1130.9 334.1 1129 362.6 1126C421.8 1119.8 480.8 1112.1 540 1105.9C577.6 1101.9 615.1 1098.1 652.8 1095.4C677.9 1093.6 703 1091.8 728.1 1092.4C753.3 1093 778.6 1094.4 803.3 1099.2C822.8 1103 842.4 1108.2 859.7 1118C872.1 1125 882.9 1135.7 889.8 1148.1C897.4 1161.7 899.3 1177.8 901.8 1193.2C905.4 1215.6 906.9 1238.3 907.8 1260.9C909 1290.6 907.7 1320.3 908 1350C908.4 1383.3 907.8 1416.7 910 1450C911.6 1473.9 912.1 1498.4 919.2 1521.3C921.7 1529.5 929.3 1537.2 937.6 1539.5"/>
<path d="M186.5 1344.7C197.4 1364.3 207.2 1384.5 219.2 1403.5C233.4 1426 247.3 1449 265 1468.9C282.5 1488.5 301.7 1507.2 323.9 1521.3C350.2 1538.1 379 1551.4 408.9 1560.5C440.7 1570.1 474.1 1573.8 507.1 1576.9C550.5 1581 594.3 1582.1 637.9 1582.1C703.3 1582.1 768.7 1578.6 834.1 1576.9C868.4 1576 902.6 1574.5 936.9 1574.5"/>
<path d="M739.3 1489.2C805.2 1488.3 871 1486.5 936.9 1486.5"/>
<path d="M739.3 1506.2C760 1511.2 781.5 1513.8 801.4 1521.3C824.2 1529.9 846.7 1540.2 866.8 1554C882.1 1564.5 893.5 1579.6 906.1 1593.2C917 1605 921.2 1627.9 937.1 1630.1"/>
<path d="M732.7 1722.9C800.8 1722.3 868.8 1721.2 936.9 1721.2"/>
<path d="M264.3 882C272.7 882 281.5 883.4 289.1 887C295.9 890.2 302.3 895.3 306.2 901.7C311.6 910.6 313.2 921.2 316 931.2C318.9 941.7 320.2 952.6 323.4 963C326 971.4 329 979.8 333.2 987.6C335.6 992.2 339.2 996.1 343 999.6C350.7 1006.7 358 1014.9 367.6 1019.2C381.4 1025.4 396.7 1028.3 411.7 1030.3C436.1 1033.5 460.7 1034.8 485.3 1034.5C541.2 1033.9 596.9 1029.1 652.8 1027.7C690.4 1026.8 728.1 1025.4 765.7 1027.7C791 1029.2 816.6 1031.7 840.9 1039C854.9 1043.2 868.2 1051.3 878.5 1061.6C886.4 1069.5 893.1 1080.4 893.6 1091.6C896 1150.9 887.8 1210.2 887 1269.6C886.2 1331.2 887.3 1392.8 888.8 1454.4C890.3 1516 891 1577.8 896.2 1639.2C899.6 1679.6 906.9 1719.6 914.7 1759.3C917.1 1771.4 921.3 1783.3 926.7 1794.4C928.9 1798.9 932.2 1804.5 937.2 1805.3"/>
<path d="M162.8 2516.3C164.8 2441.1 165 2365.8 168.7 2290.6C171.9 2225.1 176.9 2159.7 183.4 2094.4C189.1 2036.9 197.1 1979.7 205.5 1922.6C211.5 1881.6 219.4 1840.8 226.6 1800C232.7 1765.9 237.9 1731.7 245.4 1697.9C255.1 1654 263.1 1609.5 278.1 1567.1C289.5 1534.9 305.3 1504.1 323.9 1475.5C336.1 1456.7 350.2 1437.4 369.7 1426.4C391.2 1414.2 417.1 1410.6 441.7 1408.8C485.2 1405.6 528.9 1409.6 572.5 1411.4C616.2 1413.3 659.6 1418.7 703.3 1419.9C736 1420.8 768.9 1421.3 801.4 1417.9C821.5 1415.8 842.3 1412.7 860.3 1403.5C874 1396.5 886.5 1384.8 893 1370.8C902.4 1350.7 906 1327.6 906.1 1305.4C906.5 1203.5 896.2 1101.7 894.3 999.8C893.8 975.4 896 950.9 898.9 926.6C901.3 906.5 903.3 885.9 910.4 867C915 854.7 922.8 842.9 933.3 835C945.1 826.2 960 821.7 974.5 819C997.1 814.8 1020.2 814.4 1043.2 814.4C1073.7 814.4 1104.2 817.5 1134.7 819C1165.2 820.5 1195.7 824.4 1226.3 823.5C1247.9 822.9 1269.9 821.1 1290.4 814.4C1301.3 810.9 1311.2 803.1 1317.9 793.8C1325.5 783.2 1328.6 769.9 1331.6 757.2C1336.3 737.6 1335.9 717.1 1340.8 697.6C1343.6 686.3 1348.5 675.5 1354.5 665.6C1356.8 661.7 1360.8 658.2 1365.2 657.4"/>
<path d="M176.2 2519.6C193.6 2479.3 208.6 2437.8 228.5 2398.6C243.6 2368.9 260.3 2339.7 280.8 2313.5C299.8 2289.2 322.1 2267.3 346.2 2248.1C366.1 2232.2 388.4 2219.1 411.7 2208.9C432.4 2199.8 454.7 2194.2 477.1 2190.6C498.6 2187.1 520.7 2186.8 542.5 2187.9C575.4 2189.6 607.9 2195.6 640.6 2199.1C673.3 2202.6 705.8 2209.5 738.7 2208.9C771.7 2208.3 804.7 2203.3 836.8 2195.8C875.4 2186.8 913.2 2174.5 950 2159.8C1035.7 2125.6 1125 2097.4 1203.9 2049.5C1233.9 2031.3 1251.2 1996.8 1268.6 1966.3C1288.5 1931.5 1304.2 1894 1314.8 1855.4C1324.2 1821.3 1326.4 1785.4 1328 1750C1331.8 1666.7 1330.5 1583.3 1331 1500C1331.6 1413.3 1331.1 1326.5 1331.3 1239.8C1331.4 1184.7 1331.5 1129.5 1331.9 1074.4C1332.2 1026.5 1332.7 978.7 1333.3 930.8C1333.7 902.1 1333.6 873.3 1334.8 844.6C1335.6 825.4 1336.7 806.2 1339.1 787.2C1340.6 775.5 1344 764.2 1346.3 752.7C1348.8 740.3 1350.2 727.6 1353.4 715.4C1355.5 707.5 1359 700 1362.1 692.4C1362.9 690.4 1363.1 687.1 1365.2 686.7"/>
<path d="M163.8 2516.3C167.1 2441.1 167.9 2365.7 173.6 2290.6C178.6 2225 185.5 2159.4 195.7 2094.4C203.5 2044.8 215.4 1995.9 227.6 1947.2C240 1897.7 253.6 1848.5 269.3 1800C277 1776.2 286.9 1753.1 297.7 1730.6C309.5 1705.9 321.8 1681.3 337 1658.6C348.1 1641.9 359.4 1623.9 376.2 1612.9C391.3 1603 410.5 1599.8 428.6 1598.5C476.4 1595 524.6 1597.1 572.5 1598.5C616.2 1599.7 659.9 1601.8 703.3 1606.3C747.1 1610.9 790.9 1617.2 834.1 1625.9C856.4 1630.4 877.9 1638.5 899.5 1645.6C912.2 1649.8 923.8 1658.2 937.1 1659.8"/>
<path d="M165.2 2516.3C169.6 2441.1 171.8 2365.7 178.5 2290.6C184.4 2225 191.9 2159.4 203 2094.4C211.5 2044.7 224.6 1995.9 237.4 1947.2C250.4 1897.8 263.6 1848.3 280.5 1800C288.2 1778 299.6 1757.5 310.8 1737.1C320.7 1719.1 331.2 1701.2 343.5 1684.8C350.9 1674.9 358.1 1662.9 369.7 1658.6C392.4 1650.3 417.5 1649.1 441.7 1648.8C507.1 1648 572.6 1651.6 637.9 1655.4C703.4 1659.2 768.8 1665.2 834.1 1671.7C856 1673.9 877.8 1677.7 899.5 1681.5C912.1 1683.7 924.3 1688.2 937 1689.5"/>
<path d="M176 2516.3C180.9 2441.1 183.4 2365.6 190.8 2290.6C197.3 2224.9 204.3 2159 217.7 2094.4C228.1 2044.2 241 1994 261.9 1947.2C275.8 1916.1 298.8 1889.8 320.8 1863.8C335 1847 351.1 1831.1 369.8 1819.6C391.9 1806 417 1797.7 441.7 1789.5C455.4 1784.9 469.9 1781.6 484.3 1781.6"/>
<path d="M180.9 2516.3C186.6 2441.1 189.3 2365.5 198.1 2290.6C204.9 2232.9 214.5 2175.5 227.6 2118.9C239.1 2069 250.8 2018.5 271.7 1971.7C285.6 1940.6 307.5 1913.3 330.6 1888.3C348.8 1868.6 371.5 1853.2 394.4 1839.2C409.4 1830 426.6 1824.9 443.4 1819.6C456.7 1815.4 470.4 1810.9 484.3 1810.9"/>
<path d="M179.4 2519.6C197.9 2483.6 214.9 2446.8 235 2411.7C253.1 2380.2 270.4 2347.7 293.9 2320.1C314.5 2295.9 338.8 2274.4 365.9 2257.9C379.2 2249.8 396.1 2249.4 411.7 2248.1C455.2 2244.4 498.9 2243.5 542.5 2242.9C607.9 2242 673.3 2242.9 738.7 2243.5C809.1 2244.2 879.6 2246.5 950 2246.8C993.6 2247 1037.3 2247 1080.8 2244.8C1113.6 2243.1 1146.6 2240.8 1178.9 2235C1201.3 2231 1223.8 2225.1 1244.4 2215.4C1261.4 2207.4 1276.5 2195.6 1290.1 2182.7C1315.6 2158.6 1345.4 2136.3 1361 2104.9C1379.3 2068.1 1378.1 2024.5 1388.7 1984.8C1395.5 1959.4 1387.1 1913.5 1413.1 1909.8"/>
<path d="M189.2 2519.6C208.8 2494.5 227 2468.3 248.1 2444.4C268.5 2421.3 289.1 2397.8 313.5 2378.9C328.9 2366.9 347.3 2358.8 365.9 2352.8C391.3 2344.5 417.9 2339.6 444.4 2336.4C498.7 2329.8 553.3 2326.8 607.9 2323.3C673.2 2319.1 738.7 2316.9 804.1 2313.5C852.7 2311 901.4 2308.6 950 2305.7C993.6 2303.1 1037.4 2301.9 1080.8 2297.2C1113.8 2293.6 1146.8 2289.1 1178.9 2280.8C1201.6 2274.9 1224.3 2266.9 1244.4 2254.7C1264.2 2242.6 1278.2 2222.9 1296.7 2208.9C1315.7 2194.5 1346.3 2191.2 1356.4 2169.6C1376.2 2127.1 1369.5 2076.8 1379.5 2031C1385 2005.8 1393.7 1981.3 1402.6 1957.1C1405 1950.6 1406.2 1940.1 1413.1 1939.1"/>
<path d="M195.8 2519.6C217.6 2496.7 238.3 2472.6 261.2 2450.9C279.8 2433.3 298.6 2415.6 320.1 2401.8C338.2 2390.3 358.5 2382.4 378.9 2375.7C400.2 2368.7 422.2 2363.7 444.4 2360.6C476.9 2356.1 509.7 2354.1 542.5 2352.8C586.1 2351.1 629.7 2351.2 673.3 2351.5C716.9 2351.8 760.5 2353.5 804.1 2354.7C852.7 2356.1 901.3 2359.1 950 2359.3C1004.5 2359.5 1059.1 2360.2 1113.5 2356.1C1146.6 2353.6 1179.9 2349.2 1211.7 2339.7C1235 2332.7 1258.3 2322.5 1277.1 2307C1296.3 2291.2 1309.6 2269.1 1322.9 2248.1C1335.9 2227.5 1348.2 2205.9 1355.6 2182.7C1362.6 2160.7 1361.2 2136.8 1365.6 2114.1C1372.2 2080 1377.9 2045.5 1388.7 2012.5C1393.9 1996.5 1396.5 1970.8 1413.1 1968.5"/>
<path d="M202.3 2519.6C224.1 2501.1 245.1 2481.5 267.7 2464C288.8 2447.7 309.6 2430.6 333.2 2418.2C353.7 2407.5 376.1 2400.4 398.6 2395.3C424.3 2389.5 450.8 2387.3 477.1 2385.5C509.7 2383.3 542.5 2382.8 575.2 2383.5C629.7 2384.6 684.2 2388.2 738.7 2390.7C809.1 2393.9 879.5 2398.2 950 2400.5C993.6 2401.9 1037.2 2402.7 1080.8 2401.8C1124.5 2400.9 1168.6 2402.7 1211.7 2395.3C1239.2 2390.6 1267.5 2382.3 1290.1 2365.9C1312.7 2349.5 1327 2323.7 1342.5 2300.4C1357.6 2277.7 1366.9 2251.4 1381.7 2228.5C1388.8 2217.5 1398.1 2207.9 1407.9 2199.1C1411.6 2195.8 1416.5 2193.6 1421.4 2192.9"/>
<path d="M218.7 2519.6C239.4 2507.6 259.8 2495 280.8 2483.6C298 2474.3 315.4 2465.3 333.2 2457.4C343.8 2452.7 354.4 2447.1 365.9 2445.7C402.7 2441.2 440 2441 477.1 2439.8C542.5 2437.7 607.9 2437.4 673.3 2435.9C765.5 2433.9 857.8 2431.6 950 2429.3C1004.5 2427.9 1059 2427.4 1113.5 2424.7C1157.2 2422.6 1201.3 2422.3 1244.4 2414.9C1265.1 2411.3 1287 2405.5 1303.2 2392C1321.3 2376.9 1330.7 2353.6 1342.5 2333.2C1354.7 2312.1 1362.3 2288.4 1375.2 2267.7C1384.2 2253.3 1395.8 2240.4 1407.9 2228.5C1411.4 2225 1416.5 2222.9 1421.4 2222.2"/>
<path d="M248.1 2519.6C269.9 2509.8 291 2498.3 313.5 2490.1C334.8 2482.3 356.7 2476.1 378.9 2471.8C411.3 2465.6 444.2 2461.9 477.1 2458.7C520.6 2454.5 564.2 2451.7 607.9 2449.6C673.3 2446.5 738.7 2445 804.1 2443C852.7 2441.5 901.4 2439.8 950 2439.1C1015.4 2438.1 1080.8 2437.5 1146.2 2437.8C1232.3 2438.2 1318.5 2441.1 1404.6 2441.1"/>
<path d="M316.8 2544.4C392 2536.1 467.2 2527 542.5 2519.6C607.8 2513.2 673.3 2508.4 738.7 2503.2C809.1 2497.7 879.5 2492 950 2487.5C1015.4 2483.3 1080.8 2480.2 1146.2 2477.1C1189.8 2475 1233.4 2472.9 1277.1 2471.8C1319.6 2470.7 1362.1 2470.4 1404.6 2470.4"/>
<path d="M316.8 2577.1C392 2583 467.2 2589.3 542.5 2594.8C607.9 2599.6 673.3 2603.5 738.7 2607.9C809.1 2612.7 879.5 2618.3 950 2622.3C1015.4 2626 1080.8 2628.9 1146.2 2630.8C1220.3 2633 1294.4 2634.6 1368.5 2634.6"/>
<path d="M287.4 2606.6C350.6 2628.8 413.7 2651.7 477.1 2673.3C564.1 2702.9 651.6 2731.1 738.7 2760.3C869.2 2804.1 999.7 2848 1130 2892.2C1176.3 2907.9 1222.1 2925 1268.6 2940.2C1299.2 2950.2 1329.9 2959.7 1361 2967.9C1376.6 2972 1392.7 2974.2 1408.6 2977"/>
<path d="M186 2607.9C195.8 2625.3 204.4 2643.5 215.4 2660.2C227.4 2678.5 240.6 2696 254.7 2712.6C269 2729.4 284.3 2745.3 300.4 2760.3C322.7 2781.1 343.9 2803.7 369.6 2820.1C428.9 2857.8 490 2893.5 554.4 2921.7C613.7 2947.7 676.2 2966.8 739.2 2981.8C799.8 2996.2 861.9 3004.4 924 3009.5C992.5 3015.2 1061.3 3014 1130 3014.1C1222.8 3014.2 1315.5 3010.1 1408.3 3010.1"/>
<path d="M195 2607C200.8 2668.8 196.8 2732.3 212.5 2792.4C224.7 2839 249.7 2882.1 277.2 2921.7C302.7 2958.4 329.4 2999.4 369.6 3018.8C426.2 3046.1 492.2 3047 554.4 3055.7C646.4 3068.6 739 3076.7 831.6 3083.4C930.9 3090.6 1030.5 3095.1 1130 3097.3C1386 3103 1642 3107.3 1898 3107.3"/>
<path d="M190 2607C194.4 2684.2 187.1 2763 203.3 2838.6C216.6 2900.7 242.9 2960.7 277.2 3014.1C299.6 3049 331.6 3080.8 369.6 3097.3C427.2 3122.3 492 3127.4 554.4 3134.3C646.4 3144.4 739.1 3145.4 831.6 3148.1C931 3151 1030.5 3152 1130 3150.9C1386 3148.1 1642 3136.6 1898 3136.6"/>
<path d="M185 2607C189.6 2693.4 184.9 2780.9 198.7 2866.3C206.6 2914.9 225.8 2961.8 249.5 3004.9C277.1 3055.1 312.3 3101.3 351.1 3143.5C383.7 3178.9 422 3209.2 462 3235.9C505.6 3264.9 550.9 3293.5 600.6 3309.8C660 3329.3 723.4 3333.7 785.4 3342.2C846.7 3350.6 909 3351.3 970.2 3360.6C1024 3368.8 1077.3 3380.8 1130 3394.6C1147.2 3399.1 1163 3408 1179.1 3415.5C1195.7 3423.2 1211.9 3431.5 1228.1 3440C1244.6 3448.7 1260.9 3457.8 1277.2 3467C1287.1 3472.6 1298.1 3476.6 1306.6 3484.2C1314 3490.9 1318.7 3500.2 1323.8 3508.7C1328.5 3516.5 1331.9 3525.1 1336.1 3533.2C1339.1 3538.8 1342.2 3544.4 1345.4 3549.9C1346.3 3551.4 1346.7 3554 1348.4 3554.2"/>
<path d="M182 2607C192.2 2730.4 192.8 2855 212.5 2977.2C224.7 3053.2 248.9 3127.3 277.2 3198.9C298.5 3252.7 325 3305.5 360.3 3351.4C387.6 3386.9 425.5 3413.2 462 3439.2C505.9 3470.4 551.8 3499.5 600.6 3522.3C644.7 3542.9 692.1 3556.2 739.2 3568.5C784.7 3580.3 831 3589.7 877.8 3594.4C923.8 3599 970.2 3597 1016.4 3596.2C1127 3594.4 1237.6 3586.6 1348.2 3586.6"/>
<path d="M178 2607C192.6 2761.2 201.1 2916.1 221.7 3069.6C234.2 3163 259.6 3254.2 277.2 3346.8C284.8 3386.6 283.5 3428.6 297.2 3466.8C313.5 3512.3 334.5 3557.7 365.9 3594.4C394.8 3628.2 433.2 3654.6 473.8 3672.9C519.9 3693.6 570.7 3704.5 621 3709.2C660.3 3712.8 699.8 3703.7 738.7 3697.4C804.6 3686.7 869.2 3669.1 935 3658.1C967.4 3652.7 1000.2 3648.3 1033.1 3648.3C1066 3648.3 1099.1 3650.9 1131.2 3658.1C1165 3665.7 1197.6 3678.5 1229.3 3692.5C1253.4 3703.1 1278.4 3714.1 1298 3731.7C1312.2 3744.5 1321.8 3762.6 1327.4 3780.8C1332.3 3796.8 1326.5 3814.4 1328.7 3831C1331.6 3852.9 1332.6 3876 1342.5 3895.7C1347.3 3905.2 1359 3911.7 1369.6 3912.5"/>
<path d="M175 2607C193.7 2822.8 208.5 3039 231 3254.4C239.5 3335.5 249.1 3416.8 267.7 3496.2C281.1 3553.6 298.5 3611.2 326.6 3663C342 3691.5 367.4 3715.3 395.3 3731.7C424.7 3749 459.7 3755.8 493.4 3761.2C542 3769 591.4 3771 640.6 3771C706.1 3771 771.4 3764.5 836.8 3761.2C902.2 3757.9 967.6 3752.8 1033.1 3751.3C1082.2 3750.2 1131.3 3750.1 1180.3 3753.3C1206.7 3755 1233.9 3756.9 1258.7 3766.1C1277.4 3773 1296.3 3784.1 1307.8 3800.4C1319.4 3816.9 1318.2 3839.4 1324 3858.7C1330.4 3880.4 1333.4 3903.6 1344.4 3923.4C1349.4 3932.4 1359.4 3940 1369.6 3941"/>
<path d="M172 2607C187 2822.8 197.4 3039 217.1 3254.4C226 3351.9 238.3 3449.4 257.9 3545.3C271.6 3612.2 286.3 3680.4 316.8 3741.5C333.4 3774.6 365.3 3798.3 395.3 3820C424.9 3841.4 458.4 3858.5 493.4 3869.1C534.6 3881.6 578 3887 621 3888.7C660.3 3890.3 699.8 3884.7 738.7 3878.9C788.2 3871.6 836.6 3858 885.9 3849.5C928.2 3842.2 970.6 3831.8 1013.5 3831.8C1053.2 3831.8 1093.3 3837.8 1131.2 3849.5C1166.1 3860.3 1198.9 3878.2 1229.3 3898.5C1258.2 3917.8 1289.7 3937.5 1307.8 3967.2C1324.6 3994.9 1324.6 4029.9 1328.7 4062C1334.6 4107.9 1332.4 4154.6 1337.9 4200.6C1340.1 4219.5 1342 4239.6 1351.7 4256C1356.9 4264.7 1368.7 4268.8 1378.8 4269.7"/>
<path d="M169 2607C180.4 2822.8 185.1 3039.1 203.3 3254.4C211.5 3352.2 229.5 3449 248.1 3545.3C260.9 3611.5 275.3 3677.7 297.2 3741.5C314.8 3792.7 334.6 3844.5 365.9 3888.7C391.3 3924.6 426.4 3954.1 464 3977C502.9 4000.7 547 4016.6 591.5 4026.1C639.6 4036.4 689.5 4036.2 738.7 4035.9C804.3 4035.5 869.5 4027.4 935 4024.1C967.7 4022.5 1000.4 4019.6 1033.1 4021.2C1066 4022.8 1099.4 4025.2 1131.2 4033.9C1165.4 4043.3 1198.1 4058.2 1229.3 4075.1C1254.1 4088.5 1280 4102.5 1298 4124.2C1315.9 4145.8 1323.9 4174.2 1333.3 4200.6C1341.8 4224.5 1340.9 4251.5 1351.7 4274.5C1356.8 4285.3 1367.1 4296.2 1378.9 4297.9"/>
<path d="M166 2607C175.3 2822.8 176.1 3039.1 194 3254.4C203.5 3368.8 228.2 3481.4 248.1 3594.4C262.6 3676.5 275.7 3759.1 297.2 3839.7C315.1 3906.7 336.6 3973.1 365.9 4035.9C382.8 4072.1 410.7 4101.9 434.5 4134C442.8 4145.2 451.3 4156.6 462 4165.5C497.6 4195 532.7 4225.9 572.9 4248.7C625.7 4278.6 684.4 4296.6 739.2 4322.6C801.4 4352.1 861.5 4386.2 924 4415C991.8 4446.3 1061.7 4472.6 1130 4502.8C1176.6 4523.4 1222.2 4546.3 1268.6 4567.5C1296.3 4580.1 1323.7 4593.8 1352.3 4604.2"/>
<path d="M163 2607C170.3 2822.8 169.3 3039 184.8 3254.4C197.7 3433.9 227 3611.9 248.1 3790.6C257.8 3872.5 265.9 3954.5 277.2 4036.2C287.9 4113.4 296.1 4191.3 314.1 4267.2C324 4308.9 336.5 4351.6 360.3 4387.3C386.9 4427.2 424.7 4458.8 462 4488.9C505.2 4523.8 551.3 4555.8 600.6 4581.3C644.3 4603.9 691.2 4621.1 739.2 4632.1C799.7 4645.9 862 4652.7 924 4655.2C992.7 4658 1061.3 4650.1 1130 4647.8C1203.7 4645.4 1277.3 4641 1351 4641"/>
<path d="M738.2 730.5C750.3 730.5 762.6 733.2 773.6 738.1C787.1 744.1 800 752.2 810.4 762.6C816.9 769.1 819.4 778.6 822.6 787.2C828.5 803.2 833.7 819.5 837.4 836.2C841.9 856.4 843.1 877.3 847.2 897.6C851.3 918.2 855.7 938.8 861.9 958.9C867.1 975.7 877.7 990.7 881.5 1007.9C888.2 1038.1 891.5 1069.1 893 1100C896.3 1166.6 894.8 1233.3 896 1300C897.2 1366.7 898.5 1433.3 900 1500C900.4 1520 900.5 1540 901.8 1560C903.1 1580.5 905.6 1600.9 907.9 1621.3C911 1648.6 914.1 1675.9 918.1 1703.1C921.6 1726.4 925.8 1749.5 930.4 1772.6C932.9 1785 936.7 1797.1 939.4 1809.4C941 1816.6 939.7 1824.9 943.5 1831.3"/>
<path d="M1262.6 1398.5C1267.6 1389.9 1274.7 1382.1 1277 1372.5C1278.2 1367.5 1275.2 1361.9 1272.1 1357.8C1260.3 1342 1250.7 1322.1 1232.9 1313.6C1209 1302.1 1180.9 1302.4 1154.4 1301.3C1121.7 1299.9 1089 1306.7 1056.2 1306.2C1031.5 1305.9 1006.5 1305.1 982.6 1298.9C964.9 1294.3 947.3 1286.5 933.6 1274.4C918.6 1261.2 908.1 1243.2 899.2 1225.3C891.6 1210 885.1 1193.3 884.5 1176.2C882.5 1120.1 892.1 1064 891.3 1007.9C891.1 995.2 884.6 983.5 881.5 971.2C877.3 954.9 873 938.6 869.3 922.1C864.8 901.8 861.5 881.1 857 860.8C853.3 844.3 849.5 827.9 844.7 811.7C841.3 800.1 837.4 788.5 832.5 777.4C828.4 768 823.4 758.9 817.7 750.4C811.9 741.7 805.1 733.7 798.1 725.9C790.4 717.3 782.3 708.9 773.6 701.3C764.3 693.3 755.6 683.7 744.2 679.2C730.3 673.7 714.9 672.9 700 671.9C666.9 669.8 633.7 668.9 600.6 669.9C572.8 670.7 544.2 669.6 517.4 677.3C505 680.8 495.5 691.8 487.8 702.2C482 710 479.8 720.3 478.6 729.9C477.7 737 480.2 744.2 481.4 751.2"/>
<path d="M1262.6 1398.5C1279.9 1377.9 1294.4 1350.1 1291.7 1323.4C1290.1 1308.1 1267.2 1303.4 1252.5 1298.9C1228.8 1291.7 1203.6 1288.8 1178.9 1289.1C1146 1289.6 1113.5 1297.6 1080.8 1301.3C1056.3 1304.1 1031.8 1310.2 1007.2 1308.7C990.1 1307.7 972.4 1303.3 958.1 1294C938.7 1281.4 922.2 1264 909.1 1244.9C900.3 1232.1 896.3 1216.2 894.3 1200.8C892.2 1184.6 896 1168.1 896.8 1151.7C897.6 1135.3 899.1 1119 899.2 1102.6C899.3 1086.4 901.6 1069.6 897.3 1054C894.4 1043.6 886.1 1035.3 878.5 1027.7C873.3 1022.5 866.7 1018.5 859.7 1016.4C841.3 1010.9 822.3 1007.4 803.3 1005.1C765.8 1000.5 728.1 997.8 690.4 995.7C640.3 992.8 590.2 991.3 540 990.1C493.3 988.9 446.7 988.9 400 988.5C306.7 987.7 213.3 988.1 120 986.5C103.3 986.2 86.4 986.3 70 983C62 981.4 53.5 978.1 48 972C42.8 966.2 41.3 957.7 40 950C38.5 940.8 39.5 931.3 39.9 922"/>
<path d="M1262.6 1398.5C1266.5 1387.8 1278.7 1378.8 1277 1367.6C1274.8 1353.7 1263.9 1341.5 1252.5 1333.2C1238.3 1322.8 1220.9 1315.9 1203.4 1313.6C1171 1309.3 1137.9 1311.2 1105.3 1313.6C1072.3 1316.1 1039.6 1321.8 1007.2 1328.3C990.4 1331.6 973.2 1335 958.1 1343C944.8 1350.1 933.6 1361.1 923.8 1372.5C917 1380.4 909.5 1389.6 909.1 1400C907.9 1434 917.9 1467.7 919.2 1501.7C920.2 1527.8 919.6 1554.2 915.9 1580.1C913 1600.3 908.9 1620.9 899.5 1639C894.2 1649.3 884 1657.1 873.4 1661.9C861.3 1667.4 847.4 1667.9 834.1 1668.5C790.5 1670.5 746.9 1669.8 703.3 1669.8C659.7 1669.8 616.1 1667.3 572.5 1668.5C550.6 1669.1 527.8 1667.8 507.1 1675C497.6 1678.3 491.9 1688.9 487.4 1697.9C483.5 1705.8 483.2 1715.2 482.9 1724.1C482.7 1730.7 483.8 1737.4 486 1743.6"/>
<path d="M1262.6 1398.5C1266.7 1387.2 1278.2 1376.9 1276 1365.1C1273.4 1351 1261.5 1339.3 1250 1330.8C1236.5 1320.8 1220.1 1313.8 1203.4 1311.6C1171 1307.4 1137.9 1309.6 1105.3 1312.1C1072.3 1314.6 1039.6 1320 1007.2 1326.4C991.3 1329.5 974.9 1332.9 960.6 1340.6C947.3 1347.7 935.8 1358.3 926.2 1370C919.2 1378.6 913 1389 912 1400C910.8 1413.5 917.8 1426.6 920 1440C924.4 1466.6 929.3 1493.2 932 1520C935.3 1553.2 936.9 1586.6 938 1620C939.1 1653.3 939.2 1686.7 938.5 1720C938 1743 937.6 1766.1 934.5 1788.9C932.2 1805.6 928.5 1822.3 922.2 1838C917.4 1849.9 910.7 1861.4 901.8 1870.7C893.9 1878.9 884.3 1887 873.1 1889.1C846.7 1894.1 819.4 1891.2 792.5 1891.3C727.1 1891.5 661.6 1889.8 596.2 1889.8C547.2 1889.8 498 1888.4 449.1 1891.3C442.7 1891.7 435.9 1894.7 431.9 1899.6C426.3 1906.4 423.9 1915.6 422.1 1924.2C420.1 1933.8 420.2 1943.8 420.6 1953.6C420.8 1957.6 422.3 1961.5 423.7 1965.3"/>
<path d="M795.5 1945.6C811.6 1945.6 826.9 1936.6 840.4 1927.9C849.3 1922.1 854.3 1911.8 860.9 1903.4C869.3 1892.7 877.3 1881.7 885.4 1870.7C892.3 1861.2 901.2 1852.8 905.9 1842.1C910.9 1830.6 911.8 1817.7 914 1805.3C915.9 1794.5 915 1783.1 918.1 1772.6C919.9 1766.4 923.8 1760.8 928.3 1756.2C930.5 1754 934.1 1754 937.1 1753.6"/>
<path d="M865.8 2089.4C875.1 2079.2 886.9 2070.9 893.6 2058.8C901.9 2043.7 906.2 2026.6 909.9 2009.7C912.8 1996.3 913.5 1982.5 913.2 1968.8C912.8 1948.3 910.1 1927.9 907.9 1907.5C905.6 1887 902.1 1866.7 899.7 1846.2C898.7 1838.1 896.4 1829.8 897.7 1821.7C899.2 1812.9 902.5 1804.2 907.9 1797.1C912.5 1791.1 919.7 1787.6 926.3 1784C929.5 1782.3 933.3 1781.6 937 1781.4"/>
<path d="M1262.6 1398.5C1273 1398.5 1284.3 1395 1292 1388C1303.1 1377.9 1313 1364.7 1316 1350C1324.7 1306.7 1327.2 1262.1 1326.2 1218C1325.8 1198.2 1316.1 1179.8 1311.8 1160.5C1307.5 1141.5 1302.8 1122.5 1300.3 1103.1C1298.5 1088.8 1298.4 1074.4 1298.9 1060C1299.8 1036 1303.3 1012.2 1304.6 988.2C1306.2 959.5 1307 930.8 1307.5 902.1C1308.2 863.8 1308 825.5 1308.1 787.2C1308.2 739.3 1308.1 691.5 1308.1 643.6C1308.1 595.7 1307.7 547.9 1308.1 500C1308.4 467.8 1308.8 435.6 1310 403.4C1310.6 387 1312.1 370.7 1313.7 354.4C1315.3 338 1317.2 321.6 1319.8 305.3C1322.5 288.8 1325 272.2 1329.6 256.2C1334 241 1339.6 226.1 1346.8 212.1C1353.6 199 1361.5 186.3 1371.3 175.3C1379.7 166 1389.8 158.1 1400.8 152C1407.9 148.1 1416.4 147.4 1424.3 146"/>
<path d="M1262.6 1398.5C1272.9 1398.5 1283.8 1393.5 1291 1386C1301.5 1375 1310 1360.9 1313 1346C1321.4 1304 1325.1 1260.8 1324.7 1218C1324.5 1198.3 1315.1 1179.8 1311.2 1160.5C1307.3 1141.5 1303.2 1122.4 1301.2 1103.1C1299.7 1088.8 1300 1074.4 1300.6 1060C1301.6 1036 1304.6 1012.2 1305.8 988.2C1307.3 959.5 1308.1 930.8 1308.6 902.1C1309.2 863.8 1308.9 825.5 1309.2 787.2C1309.5 748.9 1309.6 710.6 1310.4 672.3C1310.9 648.4 1311.6 624.4 1313.2 600.5C1314.5 581.3 1316 562.1 1319 543.1C1321.3 528.5 1325.8 514.4 1329 500C1333 482 1334.7 463.2 1340.8 445.8C1342.5 441 1349.1 439.6 1351.7 435.3C1357.8 425.3 1361.2 413.9 1366.4 403.4C1372.6 391 1378.3 378.1 1386.1 366.6C1391.5 358.7 1397.8 351.1 1405.7 345.8C1411.6 341.9 1419.3 341.5 1426.3 340"/>
<path d="M1262.6 1398.5C1273.4 1398.5 1286.2 1397.5 1294 1390C1306.2 1378.2 1314.4 1361.6 1318 1345C1325.4 1310.6 1323.7 1274.9 1326.2 1239.8C1327.4 1223 1328.3 1206.1 1329 1189.3C1330.2 1160.6 1330.7 1131.8 1331.9 1103.1C1332.7 1084 1333.2 1064.8 1334.8 1045.7C1336 1031.3 1337.2 1016.7 1340.5 1002.6C1343.9 987.8 1350.1 973.9 1354.9 959.5C1359.7 945.1 1364.4 930.8 1369.2 916.4C1374 902 1376.5 886.7 1383.6 873.3C1388.2 864.6 1396.6 858.6 1403.7 851.8C1405 850.6 1406.9 849.9 1408.6 849.6"/>
<path d="M1280.3 879.9C1323 878.3 1365.6 875.1 1408.3 875.1"/>
<path d="M1208 971C1237 962.3 1266.4 954.8 1295 944.9C1318.3 936.9 1340.5 925.7 1363.7 917.4C1378.3 912.2 1392.8 904.4 1408.3 904.4"/>
<path d="M1262.6 1398.5C1272.4 1398.5 1283.1 1399.2 1291.7 1394.6C1300.4 1390 1307 1381.4 1311.3 1372.5C1318.7 1357.1 1321.5 1339.9 1326.1 1323.4C1330.1 1309.1 1332.3 1294.3 1336.9 1280.2C1338.6 1275.1 1339.6 1267.3 1344.8 1266.4"/>
<path d="M1262.6 1398.5C1285.9 1397.9 1309.2 1396.7 1332.5 1396.7"/>
<path d="M1262.6 1398.5C1273.4 1398.5 1285 1401 1294 1407C1303.6 1413.4 1310.1 1423.8 1315.6 1434C1322.9 1447.5 1327.1 1462.5 1331.7 1477.1C1336.1 1491.3 1337.3 1506.4 1342.5 1520.3C1346.4 1530.9 1352.2 1540.8 1358.7 1550C1361.9 1554.5 1365.7 1560.9 1371.3 1560.9"/>
<path d="M1143 2517.6C1165.9 2482.3 1192.6 2449.2 1211.7 2411.7C1233.1 2369.9 1249.5 2325.5 1264 2280.8C1277.9 2238.1 1282.9 2192.8 1296.7 2150C1304.6 2125.5 1323.6 2105.1 1329 2079.9C1336.4 2045.2 1332.6 2009 1334.4 1973.6C1336.2 1937.6 1338 1901.7 1339.8 1865.7C1341.6 1829.7 1343.7 1793.8 1345.2 1757.8C1346.4 1730.8 1346.3 1703.8 1347.9 1676.8C1349 1658.7 1349.4 1640.5 1353.3 1622.8C1355.2 1614 1360.5 1606.2 1365.2 1598.6C1366.6 1596.3 1368.8 1593.7 1371.5 1593.3"/>
<path d="M738.2 730.5C750.3 730.5 762.3 733.8 773.6 738.1C786.6 743 799.4 749.2 810.4 757.7C821 765.8 831.8 775.1 837.4 787.2C846.2 806.3 848 827.9 852.1 848.5C856.2 868.8 858.3 889.4 861.9 909.8C864.8 926.2 867.8 942.7 871.7 958.9C875.2 973.7 879.7 988.4 884 1003C885.6 1008.5 886.6 1014.3 889.4 1019.2C898.3 1034.5 908 1049.4 918.9 1063.4C931 1078.9 943.4 1094.5 958.1 1107.6C973 1120.9 988.9 1133.9 1007.2 1141.9C1030.4 1152.1 1055.9 1156.5 1080.8 1161.5C1105.1 1166.3 1130.1 1166.4 1154.4 1171.3C1179.3 1176.3 1204.7 1180.8 1227.9 1191C1246.2 1199 1262.9 1211.2 1277 1225.3C1291.1 1239.4 1302.4 1256.5 1311.3 1274.4C1320.6 1292.9 1326.6 1313 1331 1333.2C1334.3 1348.5 1332.6 1364.5 1334.4 1380C1336.5 1398.1 1340.2 1415.9 1342.5 1434C1344.7 1451.9 1346.9 1469.9 1347.9 1487.9C1349.2 1511.3 1348.4 1534.7 1349.6 1558.1C1350.2 1570.7 1350.2 1583.6 1353.3 1595.9C1355.1 1603.2 1359.3 1610 1364.1 1615.8C1365.7 1617.7 1368.9 1617.5 1371.4 1617.7"/>
<path d="M1262.6 1398.5C1273.3 1398.5 1279.5 1413.1 1283.2 1423.2C1293.9 1452.7 1299 1484 1304.8 1514.9C1311.5 1550.6 1314.2 1587.1 1320.9 1622.8C1326.7 1653.7 1333.6 1684.5 1342.5 1714.6C1348 1733.2 1355 1751.5 1364.1 1768.6C1371.3 1782.3 1380.3 1795.2 1391.1 1806.3C1396.9 1812.3 1404.5 1818.7 1412.9 1818.7"/>
<path d="M1249.6 2660.2C1263.1 2651.5 1279.6 2646.3 1290.1 2634.1C1304.8 2617.1 1315.8 2596.5 1322.9 2575.2C1333.5 2543.6 1338.7 2510.2 1342.5 2477.1C1347.4 2433.7 1348.1 2389.9 1349 2346.2C1349.9 2302.6 1347.9 2259 1347.7 2215.4C1347.5 2170.2 1346.9 2125.1 1347.9 2079.9C1348.7 2044.4 1350 2008.9 1353.3 1973.6C1355.4 1951.8 1358.5 1930 1364.1 1908.9C1367.6 1895.6 1372.4 1882.3 1380.3 1871.1C1385.5 1863.7 1394.1 1859.4 1401.9 1854.9C1405.3 1852.9 1409.4 1852.6 1413.2 1851.9"/>
<path d="M1677.9 1789.4C1694 1789.4 1710.8 1788.1 1725.7 1782C1741.9 1775.4 1755 1763 1768.9 1752.4C1782.1 1742.3 1792.4 1728.5 1806.6 1720C1816.8 1713.9 1828.8 1709.7 1840.7 1709.7"/>
<path d="M1677.9 1789.4C1690.6 1789.4 1703.6 1792.4 1714.9 1798.2C1729.1 1805.5 1740.1 1818 1752.7 1827.9C1765.3 1837.8 1776.4 1849.8 1790.4 1857.6C1802 1864.1 1815.3 1866.8 1828.2 1870C1835.3 1871.7 1842.6 1872.3 1849.9 1872.3"/>
<path d="M1262.6 1398.5C1272.5 1398.5 1284.9 1401.5 1290 1410C1302.7 1430.9 1307.9 1455.9 1312 1480C1318.7 1519.6 1319.9 1559.9 1322 1600C1325.5 1666.6 1325.6 1733.4 1328.7 1800C1330.9 1846.3 1333.3 1892.5 1337.9 1938.6C1341 1969.6 1345.1 2000.6 1351.7 2031C1355.9 2050 1361.1 2069.2 1370.2 2086.4C1376.8 2099 1387.2 2109.4 1397.9 2118.8C1404.5 2124.6 1412.4 2131.1 1421.2 2131.1"/>
<path d="M1668.7 2101.8C1686.7 2101.8 1706.9 2103.2 1721.3 2114.1C1739 2127.5 1750.5 2148.8 1758.3 2169.6C1769.3 2199 1768.4 2231.7 1776.8 2262C1783.8 2287.3 1789.2 2314.5 1804.5 2335.9C1815.1 2350.8 1834.8 2356.5 1850.7 2365.5C1856.2 2368.6 1862.1 2372.2 1868.4 2372.2"/>
<path d="M1196.5 2749.8C1235.9 2767.1 1273.1 2790.9 1314.8 2801.6C1375.1 2817 1437.4 2825.2 1499.6 2827.5C1561.3 2829.8 1623 2821.6 1684.4 2815.5C1711 2812.9 1737.9 2809.5 1763.3 2801.3C1772.8 2798.3 1780.1 2790.2 1786.6 2782.7C1795.8 2772.2 1803.6 2760.3 1809.8 2747.8C1815.3 2736.8 1819.2 2724.9 1821.5 2712.8C1824.3 2697.5 1824.8 2681.8 1825 2666.3C1825.2 2646.9 1824.1 2627.5 1822.7 2608.1C1821.3 2588.6 1818.7 2569.2 1816.8 2549.8C1815.3 2534.3 1813.4 2518.8 1812.6 2503.3C1811.8 2488.9 1809.8 2474.3 1812 2460C1813.7 2449.4 1817.4 2438.5 1824 2430C1830.8 2421.2 1840.9 2415.2 1850.7 2409.8C1856.1 2406.8 1862.6 2406.5 1868.7 2405.4"/>
<path d="M1262.6 1398.5C1273.4 1398.5 1286.1 1403 1292 1412C1305.2 1432.1 1311.7 1456.3 1316 1480C1323.1 1519.5 1324.7 1559.9 1326 1600C1329.3 1700 1328.8 1800 1330 1900C1331 1983.3 1331.1 2066.7 1332.7 2150C1333.1 2171.8 1333.2 2193.7 1335.9 2215.4C1338.6 2237.5 1343.3 2259.3 1349 2280.8C1354.3 2300.8 1360.4 2320.7 1368.6 2339.7C1373.6 2351.4 1379.6 2363.1 1388.3 2372.4C1392.3 2376.7 1399.1 2377.6 1404.9 2378.6"/>
<path d="M723.5 1185.2C738.1 1185.2 753.5 1185.3 766.9 1191C784.2 1198.4 801.7 1208.4 813.1 1223.4C827.3 1242.1 834.2 1265.6 840.8 1288.1C849.7 1318.2 853.7 1349.6 859.3 1380.5C866 1417.3 872.4 1454.2 877.8 1491.3C881.1 1514.1 884 1537 885.4 1560C887.9 1600.8 887.8 1641.7 889.5 1682.6C891.2 1723.5 892.9 1764.4 895.6 1805.3C897 1825.8 896.4 1846.8 901.8 1866.6C909.5 1894.9 922.6 1921.6 934.5 1948.4C949.8 1982.9 967.1 2016.6 983.5 2050.6C1001.1 2087.2 1017.7 2124.3 1036.7 2160.2C1050.2 2185.8 1064.4 2211.1 1080.8 2235C1101 2264.5 1121.5 2294.2 1146.2 2320.1C1165.5 2340.3 1187.7 2358 1211.7 2372.4C1231.8 2384.5 1254.5 2392.4 1277.1 2398.6C1298.4 2404.4 1320.6 2406.1 1342.5 2408.4C1363.1 2410.5 1383.9 2411.8 1404.6 2411.8"/>
<path d="M1264 2674.6C1281.4 2672.4 1298.8 2669.9 1316.3 2668.1C1333.7 2666.3 1351 2664 1368.5 2664"/>
<path d="M1262.6 1398.5C1272.2 1398.5 1283.2 1403.7 1288 1412C1300 1432.6 1305.8 1456.6 1310 1480C1317.2 1519.6 1320.7 1559.8 1322 1600C1326.4 1733.3 1325.8 1866.7 1327 2000C1328.3 2137.2 1327.1 2274.5 1329.4 2411.7C1330.1 2455.3 1332.1 2499 1335.9 2542.5C1338.6 2573.2 1343.1 2603.8 1349 2634.1C1351.4 2646.5 1355.9 2658.4 1360.8 2670C1363.1 2675.4 1367.1 2679.8 1370.2 2684.7"/>
<path d="M1262.6 1398.5C1271.6 1398.5 1281.8 1404.1 1286 1412C1297.1 1432.9 1302 1456.7 1306 1480C1312.7 1519.6 1316.8 1559.8 1318 1600C1322.1 1733.3 1321.2 1866.7 1322 2000C1322.8 2133.3 1322.6 2266.7 1323 2400C1323.3 2500 1322.4 2600 1324 2700C1324.3 2715.5 1326.2 2730.9 1328.7 2746.2C1332.3 2768 1336.3 2789.7 1342.5 2810.9C1347.1 2826.8 1352.2 2843 1361 2857.1C1367.9 2868.2 1378.3 2876.9 1388.7 2884.8C1394.3 2889.1 1401.2 2892.8 1408.3 2892.8"/>
<path d="M1231.3 2600C1246.6 2607 1263.8 2610.8 1277.1 2621C1290.6 2631.4 1301.4 2645.4 1309.8 2660.2C1319 2676.4 1324.7 2694.6 1329.4 2712.6C1333.4 2728.1 1333.7 2744.4 1335.9 2760.3C1336.5 2764.8 1337.3 2769.4 1337.9 2773.9C1341 2795.5 1342.2 2817.4 1347.1 2838.6C1351.5 2857.6 1356.5 2876.8 1365.6 2894C1370.7 2903.6 1379.6 2911.1 1388.7 2917.1C1394.3 2920.8 1401.6 2922.1 1408.3 2922.1"/>
<path d="M1262.6 1398.5C1272.3 1398.5 1274.6 1414.1 1277.8 1423.2C1285.2 1444.2 1290.6 1465.9 1294 1487.9C1299.6 1523.6 1300.3 1560 1304.8 1595.9C1307.5 1617.6 1307.5 1640.3 1315.6 1660.6C1322.3 1677.3 1332.9 1693.9 1347.9 1703.8C1363.4 1714 1383.4 1716.1 1401.9 1717.3C1437.8 1719.7 1473.9 1716.4 1509.8 1714.6C1545.9 1712.8 1581.7 1708.3 1617.8 1706.5C1644.7 1705.2 1671.8 1703.8 1698.7 1705.4C1716.9 1706.5 1736.5 1706.3 1752.7 1714.6C1765.2 1721 1774.6 1733.9 1779.7 1747C1787.6 1767.4 1788 1790 1790.4 1811.7C1794.3 1847.6 1796.2 1883.7 1798.5 1919.7C1800.7 1955.6 1803 1991.6 1803.9 2027.6C1805.8 2101.7 1806.1 2175.9 1807 2250C1807.7 2306.7 1807.1 2363.3 1808.5 2420C1809.2 2447.8 1811.4 2475.6 1813.3 2503.3C1813.8 2511.1 1815.6 2518.8 1815.7 2526.6C1816 2542.1 1815.3 2557.6 1814.5 2573.1C1813.3 2596.4 1811.9 2619.7 1809.8 2643C1808 2662.5 1805.4 2681.8 1802.9 2701.2C1800 2724.5 1796.8 2747.7 1793.6 2771C1790.9 2790.4 1787.5 2809.7 1785.4 2829.2C1783.7 2844.7 1782.6 2860.2 1782.4 2875.8C1782.2 2891.3 1782.2 2907 1784.2 2922.4C1786 2936.6 1788.4 2951 1793.6 2964.3C1797.1 2973.1 1802.6 2981.4 1809.8 2987.6C1820.1 2996.5 1832.3 3003.3 1844.8 3008.5C1855.8 3013.1 1868 3014.3 1879.7 3016.7C1885.7 3017.9 1891.8 3019.3 1898 3019.3"/>
<path d="M738.2 730.5C758.2 730.5 778.3 730 798.1 727.1C822.9 723.5 847.8 718.9 871.7 711.1C897.1 702.8 922 692.3 945.3 679.2C979.3 660.2 1012 638.6 1043.2 615.2C1075.2 591.2 1102.3 560.9 1134.7 537.4C1163.5 516.5 1194 497.3 1226.3 482.4C1255.4 468.9 1287.7 463.5 1317.9 452.7C1332.6 447.4 1345.5 436.5 1361 434.3C1437.5 423.2 1514.7 414.9 1592 413C1638.4 411.8 1685.3 415 1730.6 425C1746.9 428.6 1765.6 437.4 1772.2 452.7C1785.7 484.1 1783.3 520.3 1786 554.4C1790.9 615.9 1794.4 677.5 1795.2 739.2C1798.1 946.8 1795.2 1154.4 1797.1 1362C1798.3 1485.2 1802.9 1608.4 1804.5 1731.6C1806.9 1908.4 1808.2 2085.2 1809.1 2262C1810.3 2500.4 1810.8 2738.8 1811 2977.2C1811.1 3069.6 1808.5 3162 1810 3254.4C1811 3316.1 1809.7 3378.1 1818.3 3439.2C1820.3 3453.6 1831.6 3465.4 1841.4 3476.1C1846.3 3481.5 1853.7 3485.7 1861 3485.7"/>
<path d="M1748.1 3217.1C1759.5 3217.1 1771.6 3225.7 1776.8 3235.9C1786.8 3255.6 1789.6 3278.6 1790.6 3300.6C1795.7 3408.3 1797.7 3516.2 1795.2 3624C1794.7 3647.3 1781.4 3669.1 1781.4 3692.4C1781.4 3705.6 1789.2 3717.7 1795.2 3729.4C1796.3 3731.5 1799.4 3731.7 1801.7 3732.3"/>
<path d="M1652.4 3703.8C1672.2 3699.3 1692.8 3697.5 1711.7 3690.3C1730.9 3683 1749.6 3673.4 1765.7 3660.6C1780.7 3648.7 1792.5 3633 1803.5 3617.4C1814.2 3602.3 1819.9 3584.1 1830.4 3568.9C1835.3 3561.8 1842.1 3555.9 1849.3 3551.1C1852.7 3548.8 1857.3 3548.9 1861.3 3548.2"/>
<path d="M1652.4 3705.4C1672.2 3702.2 1692.5 3701.5 1711.7 3695.7C1730.6 3690 1749.5 3682.7 1765.7 3671.4C1777.2 3663.3 1787.5 3652.1 1792.7 3639C1801.4 3616.9 1803.7 3592.6 1806.2 3568.9C1810 3533.1 1810.1 3496.9 1811.6 3460.9C1812.8 3433.9 1813.7 3407 1814.3 3380C1815.9 3313.5 1814.1 3246.9 1818.3 3180.5C1820.1 3152.4 1822.9 3123.8 1832.2 3097.3C1837.1 3083.2 1847.5 3070.5 1859.9 3062.2C1870.9 3054.9 1885.6 3056 1898.5 3053.2"/>
<path d="M1652.4 3717.3C1672.2 3721.8 1692.8 3723.4 1711.7 3730.8C1727.5 3737 1742.4 3746.3 1754.9 3757.8C1766.3 3768.3 1776.5 3781 1781.9 3795.5C1790.3 3817.8 1793.2 3842 1795.4 3865.7C1798.7 3901.5 1795.5 3937.7 1798.1 3973.6C1799.1 3988.2 1801 4003.1 1806.2 4016.8C1809.3 4024.9 1815.2 4032.4 1822.4 4037.3C1826.8 4040.3 1833.1 4037.9 1838.4 4039"/>
<path d="M1652.4 3744.3C1672.2 3749.7 1691.6 3756.5 1711.7 3760.5C1729.5 3764 1747.6 3765.5 1765.7 3766.9C1777.4 3767.8 1789.2 3767.4 1801 3767.4"/>
<path d="M1703.6 4057.3C1720.7 4047.4 1741.4 4042 1754.9 4027.6C1768.6 4012.9 1774.8 3992.4 1781.9 3973.6C1788.4 3956.3 1793.6 3938.1 1795.4 3919.7C1799 3883.9 1797.1 3847.7 1798.1 3811.7C1798.9 3784.7 1798.1 3757.6 1800.8 3730.8C1803.5 3703.6 1807.9 3676.4 1814.3 3649.8C1817.9 3634.9 1823 3620.1 1830.4 3606.7C1835.4 3597.7 1843.5 3590.6 1851 3583.5C1853.9 3580.8 1857.4 3578.2 1861.3 3577.6"/>
<path d="M1703.6 4060C1718.9 4049.2 1737.4 4041.9 1749.5 4027.6C1762.5 4012.2 1770.7 3992.9 1776.5 3973.6C1781.7 3956.3 1781.9 3937.8 1781.9 3919.7C1781.9 3901.6 1777 3883.8 1776.5 3865.7C1776.1 3853.1 1776.3 3840.2 1779.2 3827.9C1781.4 3818.6 1785.9 3809.7 1791.6 3802C1793.6 3799.3 1797.7 3798.9 1801.1 3798.6"/>
<path d="M1703.6 4072.4C1748.4 4072.6 1793.1 4072.9 1837.9 4072.9"/>
<path d="M1711.2 4183.6C1721.3 4183.6 1732.2 4183.3 1741.2 4178.7C1750.3 4174 1757.7 4165.9 1762.8 4157.1C1770.5 4143.8 1774.1 4128.6 1779 4114C1784.9 4096.2 1788.6 4077.6 1795.2 4060C1796.8 4055.8 1800.6 4052.7 1803.5 4049.2C1810.5 4041 1817.3 4032.4 1825.1 4024.9C1828.8 4021.3 1832.8 4016.6 1838 4016.1"/>
<path d="M1240.4 4359.5C1286.5 4359.5 1332.6 4359.6 1378.7 4359.6"/>
<path d="M1180 4216.5C1198 4227.3 1216.4 4237.5 1234 4248.9C1252.4 4260.9 1269.5 4274.7 1287.9 4286.7C1305.5 4298.1 1322.7 4310.5 1341.9 4319C1353.4 4324.1 1366.4 4325.4 1378.9 4327.2"/>
<path d="M1201.6 4220.8C1217.8 4232 1235 4241.8 1250.2 4254.3C1263.9 4265.6 1276.7 4278.3 1287.9 4292.1C1300.2 4307.2 1308.4 4325.2 1320.3 4340.6C1330.1 4353.2 1339.9 4366.2 1352.7 4375.7C1360.2 4381.2 1370.1 4382.4 1379.2 4384.4"/>
<path d="M1180 4221.9C1198 4234.5 1216.4 4246.5 1234 4259.7C1252.4 4273.5 1272.2 4286 1287.9 4302.8C1297.8 4313.4 1304.7 4326.9 1309.5 4340.6C1315.6 4357.9 1319.1 4376.3 1320.3 4394.6C1321.8 4417.9 1319.1 4441.4 1317.6 4464.7C1316.4 4482.8 1311.7 4500.6 1312.2 4518.7C1312.6 4531.6 1314.6 4545 1320.3 4556.5C1324.5 4565.1 1333.1 4570.8 1340.8 4576.5C1343.7 4578.6 1347.7 4578.8 1351.2 4579.3"/>
<path d="M1121.4 4132.1C1127.9 4100 1134.3 4067.9 1141 4035.9C1154 3973.7 1164.5 3911 1180.3 3849.5C1194 3796.4 1210.3 3743.9 1229.3 3692.5C1243 3655.4 1263 3620.9 1278.4 3584.5C1280.6 3579.2 1279.4 3572.7 1282.1 3567.6C1287.3 3557.8 1294.5 3549 1301.7 3540.6C1309.2 3531.8 1317.3 3523.5 1326.2 3516.1C1332.1 3511.1 1339.4 3508 1345.9 3503.8C1346.8 3503.2 1347.3 3501.8 1348.4 3501.7"/>
<path d="M1113.5 4132.1C1121 4067.3 1128.6 4002.6 1136.1 3937.8C1147.5 3839.7 1156.1 3741.2 1170.4 3643.4C1174.5 3615.1 1183.4 3587.7 1191.3 3560.2C1196.1 3543.6 1203 3527.6 1208.5 3511.2C1215.3 3490.8 1221.6 3470.3 1228.1 3449.8C1234.6 3429.4 1240.2 3408.6 1247.7 3388.5C1254.9 3369.3 1263.1 3350.4 1272.3 3332.1C1279.5 3317.7 1287.4 3303.5 1296.8 3290.4C1303.9 3280.5 1312.2 3271.5 1321.3 3263.4C1327.1 3258.3 1334.4 3255.2 1341 3251.1C1341.9 3250.5 1342.7 3249.6 1343.8 3249.5"/>
<path d="M1126.3 4132.1C1152.1 3948.1 1178.4 3764.2 1203.6 3580.1C1210.7 3528.6 1216.4 3476.9 1223.2 3425.3C1228.6 3384.4 1234.7 3343.5 1240.4 3302.6C1246.1 3261.7 1253.1 3221 1257.6 3180C1273.6 3033.5 1288.1 2886.8 1302 2740C1309.6 2660.1 1317.3 2580.1 1322 2500C1326.9 2416.8 1329.2 2333.4 1331 2250C1332.8 2166.7 1332.9 2083.3 1333 2000C1333.2 1866.7 1332 1733.3 1332 1600C1332 1533.3 1332.1 1466.7 1333 1400C1333.5 1363.3 1334.9 1326.7 1336 1290C1336.5 1273.3 1335.6 1256.4 1337.6 1239.8C1339.1 1227.5 1342.8 1215.5 1346.3 1203.6C1350.5 1189.1 1354.9 1174.5 1360.6 1160.5C1365.4 1148.6 1370.8 1136.8 1377.9 1126.1C1383.4 1117.9 1391.1 1111.5 1398 1104.5C1399.4 1103.1 1400.9 1101.2 1402.9 1100.9"/>
<path d="M738.2 730.5C750.3 730.5 762.3 733.8 773.6 738.1C786.6 743 799.4 749.3 810.4 757.7C821.1 765.9 832.2 775 837.9 787.2C846.8 806.3 848.6 827.9 852.8 848.5C856.9 868.8 859 889.4 862.6 909.8C865.5 926.2 868.5 942.7 872.4 958.9C876 973.8 881.6 988.1 885.2 1003C887.3 1011.6 886.2 1020.9 889.4 1029.1C895.9 1046.2 904.6 1062.4 914 1078.1C924.3 1095.2 934.6 1112.7 948.3 1127.2C962.7 1142.4 978.5 1157.3 997.4 1166.4C1020.3 1177.4 1046 1181.4 1071 1186.1C1098.5 1191.3 1126.9 1190.7 1154.4 1195.9C1179.3 1200.6 1205 1204.5 1227.9 1215.5C1246.8 1224.6 1263.9 1238.3 1277 1254.7C1290.7 1271.8 1299.1 1292.9 1306.4 1313.6C1313.1 1332.5 1317 1352.5 1318.7 1372.5C1322.2 1414.9 1321.7 1457.5 1322 1500C1323.1 1666.7 1322.7 1833.3 1323 2000C1323.4 2200 1323.7 2400 1324 2600C1324.3 2793.3 1323.5 2986.7 1325 3180C1325.1 3192.3 1327.3 3204.6 1328.7 3216.8C1330.1 3229.1 1331.6 3241.4 1333.6 3253.6C1335.7 3265.9 1338 3278.3 1341 3290.4C1343.2 3299.1 1347.6 3307.2 1349.1 3316.1C1349.5 3318.7 1347.4 3321 1346.5 3323.4"/>
<path d="M1262.6 1398.5C1274.6 1398.5 1289.2 1402.1 1296 1412C1309.4 1431.7 1314.1 1456.5 1318 1480C1324.5 1519.6 1326.2 1559.9 1327 1600C1329.8 1733.3 1328.7 1866.7 1329 2000C1329.4 2200 1329 2400 1329 2600C1329 2733.3 1329 2866.7 1329 3000C1329 3068.2 1328.7 3136.3 1329.2 3204.5C1329.4 3229 1330.3 3253.6 1331.1 3278.1C1331.8 3298.5 1332.2 3319 1333.6 3339.4C1334.7 3355.8 1336.2 3372.2 1338.5 3388.5C1340.3 3400.9 1342.9 3413.1 1345.9 3425.3C1348 3434 1352.2 3442.2 1353.7 3451.1C1354.1 3453.4 1352.3 3455.5 1351.5 3457.6"/>
<path d="M1262.6 1398.5C1274 1398.5 1287.6 1402.6 1294 1412C1307.5 1431.9 1313.7 1456.3 1318 1480C1325.1 1519.5 1327 1559.9 1328 1600C1331.3 1733.3 1330.6 1866.7 1331 2000C1331.6 2200 1331 2400 1331 2600C1331 2733.3 1331 2866.7 1331 3000C1331 3133.3 1330.6 3266.7 1331 3400C1331.2 3465.3 1331.8 3530.6 1332.9 3595.9C1333.7 3640.9 1333.9 3685.9 1336.7 3730.8C1337.9 3750.7 1339.4 3770.9 1344.8 3790.1C1347.6 3800.2 1354.5 3808.8 1360.9 3817.1C1363 3819.8 1366.5 3821.6 1369.8 3822.2"/>
<path d="M1262.6 1398.5C1272.8 1398.5 1285 1403.1 1290 1412C1301.4 1432.5 1304.8 1456.8 1308 1480C1313.5 1519.7 1315.2 1559.9 1316 1600C1318.6 1733.3 1317.7 1866.7 1318 2000C1318.4 2200 1318 2400 1318 2600C1318 2793.3 1319.8 2986.7 1318 3180C1316.8 3313.4 1310.3 3446.6 1309 3580C1308.3 3653.3 1308.5 3726.7 1312 3800C1314.9 3860.2 1324.4 3919.9 1328 3980C1331.7 4042.6 1332.2 4105.3 1333.8 4167.9C1334.5 4194.9 1333.6 4221.9 1334.9 4248.9C1335.4 4258 1331.4 4271.2 1339.2 4275.9C1345.2 4279.5 1348.7 4265.5 1352.7 4259.7C1358.6 4251.1 1363.2 4241.5 1368.9 4232.7C1372.1 4227.8 1375.7 4223.1 1379.4 4218.6"/>
<path d="M1262.6 1398.5C1270.5 1398.5 1279 1404.7 1282 1412C1290.8 1433.4 1293.3 1457 1296 1480C1300.7 1519.8 1303.2 1559.9 1304 1600C1306.6 1733.3 1305.7 1866.7 1306 2000C1306.4 2200 1306 2400 1306 2600C1306 2733.3 1306 2866.7 1306 3000C1306 3166.7 1306 3333.3 1306 3500C1306 3633.3 1305.8 3766.7 1306 3900C1306.1 3953.3 1306.1 4006.7 1306.8 4060C1307.3 4096 1308.3 4131.9 1309.5 4167.9C1311 4212.9 1312.4 4257.9 1314.9 4302.8C1316.9 4338.8 1318.9 4374.9 1323 4410.8C1326.1 4438 1330.5 4465 1336.5 4491.7C1339.2 4503.8 1344.8 4515.1 1348.9 4526.8C1350.7 4531.9 1352.3 4537 1353.9 4542"/>
</g>
<g class="d">
<path d="M272.6 364.6C284.4 364.6 296.6 366.7 307.2 371.7C316.4 376 325 383 330.1 391.8C336 402 337.6 414.4 338.7 426.1C340.9 448.9 338.8 471.9 339.9 494.8C340.7 512 341.5 529.3 344.4 546.3C346.9 560.9 352 574.9 355.9 589.2C356.9 592.8 357.3 596.7 359 600C364.5 611 372.7 620.6 377.4 631.9C383 645.3 384.9 659.9 389.6 673.6C394.7 688.5 400.1 703.4 406.8 717.7C412.4 729.6 418.5 741.5 426.4 752.1C433.3 761.4 441.5 770 451 776.6C459.6 782.6 469.3 789.2 479.7 789.2"/>
<path d="M272.6 364.6C303.3 364.6 333.8 370.2 364.5 371.7C440.8 375.4 517.1 376.5 593.4 380.3C669.8 384.1 746.1 389.4 822.4 394.6C838.6 395.7 855.1 395.6 871 399.2C876.6 400.5 881.9 404.3 885.3 408.9C891.7 417.5 896.2 427.5 899.6 437.6C903.9 450.5 907.1 464 908.2 477.6C911 511.9 910.4 546.3 911.1 580.7C911.1 581.6 910.4 582.3 910.4 583.2C909.4 629 908.9 674.7 908.1 720.5C907.3 766.3 906.6 812.1 905.8 857.9C905 905.2 903.5 952.5 903.5 999.8C903.6 1079.9 904.7 1159.9 906.1 1240C906.7 1272.7 906.8 1305.5 909.4 1338.1C911.2 1360.1 914.4 1382 919.2 1403.5C921.6 1414.4 926.4 1424.7 930.9 1434.9C933 1439.5 935.7 1444 939 1447.9"/>
<path d="M272.6 364.6C290.6 364.6 307.5 374 324.4 380.3C336.2 384.7 346.2 394.8 358.7 396.4C398.5 401.6 438.9 398.6 478.9 400.4C555.3 403.8 631.6 407.4 707.9 411.8C746.1 414 784.3 416.4 822.4 420.4C838.8 422.1 855.8 422.7 871 429C879.7 432.6 886.6 440.6 891 449C897.5 461.3 901 475.3 902.5 489.1C905.9 520.3 905.6 551.8 905.8 583.2C906 613.7 905 644.2 903.5 674.7C902 705.3 898.9 735.8 896.6 766.3C894.3 796.8 891.3 827.3 889.8 857.9C888.3 888.4 887.6 919 887.5 949.5C887.5 964.6 886.3 979.9 889.4 994.7C892 1006.9 897.4 1018.6 904.2 1029.1C912.3 1041.8 922.3 1053.5 933.6 1063.4C948.6 1076.5 965.1 1088.1 982.6 1097.7C998 1106.2 1014.7 1112.7 1031.7 1117.4C1047.7 1121.8 1064.3 1124.7 1080.8 1124.7C1105.5 1124.7 1130.2 1121.9 1154.4 1117.4C1187.5 1111.2 1219.6 1100.2 1252.5 1092.8C1285 1085.5 1317.7 1078.5 1350.6 1073.2C1367.8 1070.4 1385.3 1068.5 1402.7 1068.5"/>
</g>
<path class="cr" d="M488.3 222L475.9 215.8L488.3 209.6M475.9 215.8L488.3 215.8M1446 119.1L1433.6 112.9L1446 106.7M1433.6 112.9L1446 112.9M1447.8 312.3L1435.4 306.1L1447.8 299.9M1435.4 306.1L1447.8 306.1M501.7 795.4L489.3 789.2L501.7 783M489.3 789.2L501.7 789.2M443.5 530.4L431.1 524.2L443.5 518M431.1 524.2L443.5 524.2M501.7 912.7L489.3 906.5L501.7 900.3M489.3 906.5L501.7 906.5M501.7 854L489.3 847.8L501.7 841.6M489.3 847.8L501.7 847.8M501.7 824.7L489.3 818.5L501.7 812.3M489.3 818.5L501.7 818.5M503.1 883.2L489.6 880L500.3 871.1M489.6 880L501.7 877.2M515.6 1220.7L503.2 1214.5L515.6 1208.3M503.2 1214.5L515.6 1214.5M515.6 1250.1L503.2 1243.9L515.6 1237.7M503.2 1243.9L515.6 1243.9M515.6 1279.4L503.2 1273.2L515.6 1267M503.2 1273.2L515.6 1273.2M1386.9 571.8L1374.5 565.6L1386.9 559.4M1374.5 565.6L1386.9 565.6M1386.9 601.1L1374.5 594.9L1386.9 588.7M1374.5 594.9L1386.9 594.9M1388 630.3L1374.7 626.4L1385.8 618.1M1374.7 626.4L1386.9 624.2M1388 542.3L1374.7 538.4L1385.8 530.1M1374.7 538.4L1386.9 536.2M957 1521.7L947.1 1512L960.8 1509.9M947.1 1512L958.9 1515.8M957.3 1551.2L946.9 1542L960.5 1539.2M946.9 1542L958.9 1545.2M958.9 1580.7L946.5 1574.5L958.9 1568.3M946.5 1574.5L958.9 1574.5M958.9 1492.7L946.5 1486.5L958.9 1480.3M946.5 1486.5L958.9 1486.5M958 1639.3L946.6 1631.4L959.8 1627M946.6 1631.4L958.9 1633.2M958.9 1727.4L946.5 1721.2L958.9 1715M946.5 1721.2L958.9 1721.2M957.8 1815.3L946.7 1807L960 1803.1M946.7 1807L958.9 1809.2M1388 659.7L1374.7 655.7L1385.8 647.5M1374.7 655.7L1386.9 653.6M1388 689L1374.7 685.1L1385.8 676.8M1374.7 685.1L1386.9 682.9M958.1 1668.7L946.6 1661L959.7 1656.3M946.6 1661L958.9 1662.5M958.3 1698L946.6 1690.5L959.5 1685.7M946.6 1690.5L958.9 1691.8M506.3 1787.8L493.9 1781.6L506.3 1775.4M493.9 1781.6L506.3 1781.6M506.3 1817.1L493.9 1810.9L506.3 1804.7M493.9 1810.9L506.3 1810.9M1435.8 1912.9L1422.6 1908.5L1434 1900.6M1422.6 1908.5L1434.9 1906.7M1435.8 1942.2L1422.6 1937.8L1434 1929.9M1422.6 1937.8L1434.9 1936.1M1435.8 1971.5L1422.6 1967.1L1434 1959.3M1422.6 1967.1L1434.9 1965.4M1444.1 2195.9L1430.9 2191.5L1442.3 2183.7M1430.9 2191.5L1443.2 2189.8M1444.1 2225.3L1430.9 2220.9L1442.3 2213M1430.9 2220.9L1443.2 2219.1M1426.6 2447.3L1414.2 2441.1L1426.6 2434.9M1414.2 2441.1L1426.6 2441.1M1426.6 2476.6L1414.2 2470.4L1426.6 2464.2M1414.2 2470.4L1426.6 2470.4M1390.5 2640.8L1378.1 2634.6L1390.5 2628.4M1378.1 2634.6L1390.5 2634.6M1429.2 2986.9L1418.1 2978.6L1431.4 2974.7M1418.1 2978.6L1430.3 2980.8M1430.3 3016.3L1417.9 3010.1L1430.3 3003.9M1417.9 3010.1L1430.3 3010.1M1920 3113.5L1907.6 3107.3L1920 3101.1M1907.6 3107.3L1920 3107.3M1920 3142.8L1907.6 3136.6L1920 3130.4M1907.6 3136.6L1920 3136.6M1369.3 3563.4L1357.9 3555.6L1371.1 3551.2M1357.9 3555.6L1370.2 3557.3M1370.2 3592.8L1357.8 3586.6L1370.2 3580.4M1357.8 3586.6L1370.2 3586.6M1391.1 3920.2L1379.1 3913.1L1391.9 3907.8M1379.1 3913.1L1391.5 3914M1390.9 3949.5L1379.2 3942L1392.1 3937.2M1379.2 3942L1391.5 3943.3M1400.2 4277.8L1388.3 4270.5L1401.2 4265.4M1388.3 4270.5L1400.7 4271.6M1399.8 4307.1L1388.4 4299.2L1401.6 4294.8M1388.4 4299.2L1400.7 4300.9M1370.9 4617.5L1361.3 4607.5L1375.1 4605.9M1361.3 4607.5L1373 4611.7M1373 4647.2L1360.6 4641L1373 4634.8M1360.6 4641L1373 4641M956.3 1462.8L947.7 1451.9L961.5 1451.5M947.7 1451.9L958.9 1457.2M1424.7 1074.7L1412.3 1068.5L1424.7 1062.3M1412.3 1068.5L1424.7 1068.5M956.3 1844.1L952.2 1835.4L961.5 1832.9M952.2 1835.4L958.9 1838.5M499.3 765.5L490.3 755L504.1 754.1M490.3 755L501.7 759.8M62.1 916.8L48.3 917.3L56.1 905.9M48.3 917.3L59.1 911.3M503.9 1757.9L494.9 1747.4L508.7 1746.5M494.9 1747.4L506.3 1752.2M440.8 1980.5L432.4 1969.5L446.2 1969.4M432.4 1969.5L443.5 1974.9M959.8 1756.6L946.6 1752.2L958 1744.4M946.6 1752.2L958.9 1750.5M959.3 1786L946.5 1780.7L958.5 1773.6M946.5 1780.7L958.9 1779.8M1447.1 148.3L1433.8 144.4L1444.9 136.1M1433.8 144.4L1446 142.2M1449.1 341.5L1435.7 338L1446.5 329.4M1435.7 338L1447.8 335.5M1431.4 851.8L1418.1 847.9L1429.2 839.6M1418.1 847.9L1430.3 845.7M1430.3 881.3L1417.9 875.1L1430.3 868.9M1417.9 875.1L1430.3 875.1M1430.3 910.6L1417.9 904.4L1430.3 898.2M1417.9 904.4L1430.3 904.4M1367.6 1268.6L1354.3 1264.7L1365.4 1256.4M1354.3 1264.7L1366.5 1262.5M1354.5 1402.9L1342.1 1396.7L1354.5 1390.5M1342.1 1396.7L1354.5 1396.7M1393.3 1567.1L1380.9 1560.9L1393.3 1554.7M1380.9 1560.9L1393.3 1560.9M1394.2 1596.4L1381 1592L1392.4 1584.1M1381 1592L1393.3 1590.3M1392.8 1625.8L1380.9 1618.5L1393.8 1613.4M1380.9 1618.5L1393.3 1619.6M1434.9 1824.9L1422.5 1818.7L1434.9 1812.5M1422.5 1818.7L1434.9 1818.7M1436 1854.2L1422.7 1850.2L1433.8 1842M1422.7 1850.2L1434.9 1848.1M1862.7 1715.9L1850.3 1709.7L1862.7 1703.5M1850.3 1709.7L1862.7 1709.7M1871.9 1878.5L1859.5 1872.3L1871.9 1866.1M1859.5 1872.3L1871.9 1872.3M1443.2 2137.3L1430.8 2131.1L1443.2 2124.9M1430.8 2131.1L1443.2 2131.1M1890.4 2378.4L1878 2372.2L1890.4 2366M1878 2372.2L1890.4 2372.2M1891.5 2407.7L1878.2 2403.7L1889.3 2395.5M1878.2 2403.7L1890.4 2401.6M1425.5 2388.5L1414.4 2380.3L1427.7 2376.3M1414.4 2380.3L1426.6 2382.4M1426.6 2418L1414.2 2411.8L1426.6 2405.6M1414.2 2411.8L1426.6 2411.8M1390.5 2670.2L1378.1 2664L1390.5 2657.8M1378.1 2664L1390.5 2664M1388.1 2699L1379.1 2688.5L1392.9 2687.6M1379.1 2688.5L1390.5 2693.3M1430.3 2899L1417.9 2892.8L1430.3 2886.6M1417.9 2892.8L1430.3 2892.8M1430.3 2928.3L1417.9 2922.1L1430.3 2915.9M1417.9 2922.1L1430.3 2922.1M1920 3025.5L1907.6 3019.3L1920 3013.1M1907.6 3019.3L1920 3019.3M1883 3491.9L1870.6 3485.7L1883 3479.5M1870.6 3485.7L1883 3485.7M1821.4 3744L1811 3734.8L1824.6 3732M1811 3734.8L1823 3738M1884.1 3550.5L1870.8 3546.6L1881.9 3538.3M1870.8 3546.6L1883 3544.4M1921.3 3054.7L1907.9 3051.2L1918.7 3042.6M1907.9 3051.2L1920 3048.6M1858.6 4049.6L1847.8 4041L1861.2 4037.5M1847.8 4041L1859.9 4043.6M1823 3773.6L1810.6 3767.4L1823 3761.2M1810.6 3767.4L1823 3767.4M1884.1 3579.8L1870.8 3575.9L1881.9 3567.6M1870.8 3575.9L1883 3573.7M1823.5 3802.9L1810.6 3797.8L1822.5 3790.5M1810.6 3797.8L1823 3796.7M1859.9 4079.1L1847.5 4072.9L1859.9 4066.7M1847.5 4072.9L1859.9 4072.9M1860.4 4020.4L1847.5 4015.3L1859.4 4008.1M1847.5 4015.3L1859.9 4014.2M1400.7 4365.8L1388.3 4359.6L1400.7 4353.4M1388.3 4359.6L1400.7 4359.6M1399.8 4336.4L1388.4 4328.5L1401.6 4324.1M1388.4 4328.5L1400.7 4330.3M1399.4 4395L1388.6 4386.4L1402 4382.9M1388.6 4386.4L1400.7 4388.9M1372.1 4588.5L1360.7 4580.6L1373.9 4576.2M1360.7 4580.6L1373 4582.4M1371.1 3504.8L1357.9 3500.4L1369.3 3492.5M1357.9 3500.4L1370.2 3498.6M1366.5 3252.6L1353.3 3248.2L1364.7 3240.3M1353.3 3248.2L1365.6 3246.4M1425.6 1104L1412.4 1099.6L1423.8 1091.7M1412.4 1099.6L1424.7 1097.9M1362.5 3339.8L1354.9 3328.2L1368.7 3329.1M1354.9 3328.2L1365.6 3334.4M1366.9 3474.6L1359.7 3462.7L1373.5 3464M1359.7 3462.7L1370.2 3469.3M1390.4 3832.1L1379.3 3823.8L1392.6 3819.9M1379.3 3823.8L1391.5 3826M1402.3 4218.9L1388.7 4216.1L1399.1 4206.9M1388.7 4216.1L1400.7 4212.9M1369.9 4558.4L1362.3 4546.8L1376.1 4547.7M1362.3 4546.8L1373 4553"/>
<path d="M475.9 215.8L483.4 219.3L483.4 212.3ZM1433.6 112.9L1441.1 116.4L1441.1 109.4ZM1435.4 306.1L1442.9 309.6L1442.9 302.6ZM489.3 789.2L496.8 792.7L496.8 785.7ZM431.1 524.2L438.6 527.7L438.6 520.7ZM489.3 906.5L496.8 910L496.8 903ZM489.3 847.8L496.8 851.3L496.8 844.3ZM489.3 818.5L496.8 822L496.8 815ZM489.6 880L497.7 881.7L496.1 874.9ZM503.2 1214.5L510.7 1218L510.7 1211ZM503.2 1243.9L510.7 1247.4L510.7 1240.4ZM503.2 1273.2L510.7 1276.7L510.7 1269.7ZM1374.5 565.6L1382 569.1L1382 562.1ZM1374.5 594.9L1382 598.4L1382 591.4ZM1374.7 626.4L1382.7 628.5L1381.5 621.6ZM1374.7 538.4L1382.7 540.5L1381.5 533.6ZM947.1 1512L953.2 1517.6L955.3 1511ZM946.9 1542L953.3 1547.3L955.1 1540.5ZM946.5 1574.5L954 1578L954 1571ZM946.5 1486.5L954 1490L954 1483ZM946.6 1631.4L953.6 1635.9L954.5 1629ZM946.5 1721.2L954 1724.7L954 1717.7ZM946.7 1807L953.5 1811.8L954.7 1804.9ZM1374.7 655.7L1382.7 657.9L1381.5 651ZM1374.7 685.1L1382.7 687.2L1381.5 680.3ZM946.6 1661L953.6 1665.4L954.5 1658.4ZM946.6 1690.5L953.7 1694.8L954.4 1687.8ZM493.9 1781.6L501.4 1785.1L501.4 1778.1ZM493.9 1810.9L501.4 1814.4L501.4 1807.4ZM1422.6 1908.5L1430.5 1910.9L1429.6 1903.9ZM1422.6 1937.8L1430.5 1940.2L1429.6 1933.3ZM1422.6 1967.1L1430.5 1969.5L1429.6 1962.6ZM1430.9 2191.5L1438.8 2193.9L1437.9 2187ZM1430.9 2220.9L1438.8 2223.3L1437.9 2216.3ZM1414.2 2441.1L1421.7 2444.6L1421.7 2437.6ZM1414.2 2470.4L1421.7 2473.9L1421.7 2466.9ZM1378.1 2634.6L1385.6 2638.1L1385.6 2631.1ZM1418.1 2978.6L1424.9 2983.4L1426.1 2976.5ZM1417.9 3010.1L1425.4 3013.6L1425.4 3006.6ZM1907.6 3107.3L1915.1 3110.8L1915.1 3103.8ZM1907.6 3136.6L1915.1 3140.1L1915.1 3133.1ZM1357.9 3555.6L1364.9 3560.1L1365.8 3553.2ZM1357.8 3586.6L1365.3 3590.1L1365.3 3583.1ZM1379.1 3913.1L1386.4 3917.1L1386.9 3910.2ZM1379.2 3942L1386.3 3946.3L1387 3939.3ZM1388.3 4270.5L1395.5 4274.7L1396.1 4267.7ZM1388.4 4299.2L1395.4 4303.7L1396.3 4296.8ZM1361.3 4607.5L1367.2 4613.3L1369.6 4606.7ZM1360.6 4641L1368.1 4644.5L1368.1 4637.5ZM947.7 1451.9L953 1458.3L955.9 1451.9ZM1412.3 1068.5L1419.8 1072L1419.8 1065ZM952.2 1835.4L954.8 1840.4L957.7 1834.1ZM490.3 755L495.8 761.1L498.6 754.7ZM48.3 917.3L56.5 916.8L53.1 910.6ZM494.9 1747.4L500.4 1753.5L503.2 1747.1ZM432.4 1969.5L437.6 1975.9L440.6 1969.6ZM946.6 1752.2L954.5 1754.6L953.6 1747.7ZM946.5 1780.7L954.3 1783.7L953.8 1776.7ZM1433.8 144.4L1441.8 146.5L1440.6 139.6ZM1435.7 338L1443.7 339.9L1442.3 333.1ZM1418.1 847.9L1426.1 850L1424.9 843.1ZM1417.9 875.1L1425.4 878.6L1425.4 871.6ZM1417.9 904.4L1425.4 907.9L1425.4 900.9ZM1354.3 1264.7L1362.3 1266.8L1361.1 1259.9ZM1342.1 1396.7L1349.6 1400.2L1349.6 1393.2ZM1380.9 1560.9L1388.4 1564.4L1388.4 1557.4ZM1381 1592L1388.9 1594.4L1388 1587.5ZM1380.9 1618.5L1388.1 1622.7L1388.7 1615.7ZM1422.5 1818.7L1430 1822.2L1430 1815.2ZM1422.7 1850.2L1430.7 1852.4L1429.5 1845.5ZM1850.3 1709.7L1857.8 1713.2L1857.8 1706.2ZM1859.5 1872.3L1867 1875.8L1867 1868.8ZM1430.8 2131.1L1438.3 2134.6L1438.3 2127.6ZM1878 2372.2L1885.5 2375.7L1885.5 2368.7ZM1878.2 2403.7L1886.2 2405.9L1885 2399ZM1414.4 2380.3L1421.2 2385L1422.4 2378.1ZM1414.2 2411.8L1421.7 2415.3L1421.7 2408.3ZM1378.1 2664L1385.6 2667.5L1385.6 2660.5ZM1379.1 2688.5L1384.6 2694.6L1387.4 2688.2ZM1417.9 2892.8L1425.4 2896.3L1425.4 2889.3ZM1417.9 2922.1L1425.4 2925.6L1425.4 2918.6ZM1907.6 3019.3L1915.1 3022.8L1915.1 3015.8ZM1870.6 3485.7L1878.1 3489.2L1878.1 3482.2ZM1811 3734.8L1817.4 3740.1L1819.2 3733.4ZM1870.8 3546.6L1878.8 3548.7L1877.6 3541.8ZM1907.9 3051.2L1915.9 3053.1L1914.5 3046.2ZM1847.8 4041L1854.4 4046L1855.8 4039.1ZM1810.6 3767.4L1818.1 3770.9L1818.1 3763.9ZM1870.8 3575.9L1878.8 3578L1877.6 3571.1ZM1810.6 3797.8L1818.4 3800.6L1817.8 3793.6ZM1847.5 4072.9L1855 4076.4L1855 4069.4ZM1847.5 4015.3L1855.3 4018.1L1854.7 4011.2ZM1388.3 4359.6L1395.8 4363.1L1395.8 4356.1ZM1388.4 4328.5L1395.4 4333L1396.3 4326.1ZM1388.6 4386.4L1395.2 4391.3L1396.6 4384.5ZM1360.7 4580.6L1367.7 4585.1L1368.6 4578.2ZM1357.9 3500.4L1365.8 3502.8L1364.9 3495.8ZM1353.3 3248.2L1361.2 3250.6L1360.3 3243.6ZM1412.4 1099.6L1420.3 1102L1419.4 1095.1ZM1354.9 3328.2L1359.6 3335L1363.1 3329ZM1359.7 3462.7L1364.2 3469.7L1367.9 3463.7ZM1379.3 3823.8L1386.1 3828.6L1387.3 3821.7ZM1388.7 4216.1L1396.9 4217.6L1395.1 4210.8ZM1362.3 4546.8L1367 4553.6L1370.5 4547.6Z" fill="#000"/>
<g class="c">
<circle cx="470.7" cy="215.8" r="3.9"/>
<circle cx="1428.4" cy="112.9" r="3.9"/>
<circle cx="1430.2" cy="306.1" r="3.9"/>
<circle cx="484.1" cy="789.2" r="3.9"/>
<circle cx="425.9" cy="524.2" r="3.9"/>
<circle cx="484.1" cy="906.5" r="3.9"/>
<circle cx="484.1" cy="847.8" r="3.9"/>
<circle cx="484.1" cy="818.5" r="3.9"/>
<circle cx="484.6" cy="881.1" r="3.9"/>
<circle cx="498" cy="1214.5" r="3.9"/>
<circle cx="498" cy="1243.9" r="3.9"/>
<circle cx="498" cy="1273.2" r="3.9"/>
<circle cx="1369.3" cy="565.6" r="3.9"/>
<circle cx="1369.3" cy="594.9" r="3.9"/>
<circle cx="1369.6" cy="627.3" r="3.9"/>
<circle cx="1369.6" cy="539.3" r="3.9"/>
<circle cx="942.2" cy="1510.4" r="3.9"/>
<circle cx="941.9" cy="1540.6" r="3.9"/>
<circle cx="941.3" cy="1574.5" r="3.9"/>
<circle cx="941.3" cy="1486.5" r="3.9"/>
<circle cx="941.5" cy="1630.7" r="3.9"/>
<circle cx="941.3" cy="1721.2" r="3.9"/>
<circle cx="941.6" cy="1806.1" r="3.9"/>
<circle cx="1369.6" cy="656.6" r="3.9"/>
<circle cx="1369.6" cy="686" r="3.9"/>
<circle cx="941.4" cy="1660.4" r="3.9"/>
<circle cx="941.4" cy="1690" r="3.9"/>
<circle cx="488.7" cy="1781.6" r="3.9"/>
<circle cx="488.7" cy="1810.9" r="3.9"/>
<circle cx="1417.5" cy="1909.2" r="3.9"/>
<circle cx="1417.5" cy="1938.5" r="3.9"/>
<circle cx="1417.5" cy="1967.8" r="3.9"/>
<circle cx="1425.8" cy="2192.2" r="3.9"/>
<circle cx="1425.8" cy="2221.6" r="3.9"/>
<circle cx="1409" cy="2441.1" r="3.9"/>
<circle cx="1409" cy="2470.4" r="3.9"/>
<circle cx="1372.9" cy="2634.6" r="3.9"/>
<circle cx="1413" cy="2977.7" r="3.9"/>
<circle cx="1412.7" cy="3010.1" r="3.9"/>
<circle cx="1902.4" cy="3107.3" r="3.9"/>
<circle cx="1902.4" cy="3136.6" r="3.9"/>
<circle cx="1352.8" cy="3554.8" r="3.9"/>
<circle cx="1352.6" cy="3586.6" r="3.9"/>
<circle cx="1373.9" cy="3912.8" r="3.9"/>
<circle cx="1374" cy="3941.5" r="3.9"/>
<circle cx="1383.2" cy="4270.1" r="3.9"/>
<circle cx="1383.3" cy="4298.5" r="3.9"/>
<circle cx="1356.5" cy="4605.7" r="3.9"/>
<circle cx="1355.4" cy="4641" r="3.9"/>
<circle cx="942.9" cy="1449.7" r="3.9"/>
<circle cx="1407.1" cy="1068.5" r="3.9"/>
<circle cx="947.4" cy="1833.2" r="3.9"/>
<circle cx="485.5" cy="753" r="3.9"/>
<circle cx="43.7" cy="919.9" r="3.9"/>
<circle cx="490.1" cy="1745.4" r="3.9"/>
<circle cx="427.7" cy="1967.2" r="3.9"/>
<circle cx="941.5" cy="1752.9" r="3.9"/>
<circle cx="941.3" cy="1781.1" r="3.9"/>
<circle cx="1428.7" cy="145.3" r="3.9"/>
<circle cx="1430.6" cy="339.1" r="3.9"/>
<circle cx="1413" cy="848.8" r="3.9"/>
<circle cx="1412.7" cy="875.1" r="3.9"/>
<circle cx="1412.7" cy="904.4" r="3.9"/>
<circle cx="1349.2" cy="1265.6" r="3.9"/>
<circle cx="1336.9" cy="1396.7" r="3.9"/>
<circle cx="1375.7" cy="1560.9" r="3.9"/>
<circle cx="1375.9" cy="1592.7" r="3.9"/>
<circle cx="1375.8" cy="1618.1" r="3.9"/>
<circle cx="1417.3" cy="1818.7" r="3.9"/>
<circle cx="1417.6" cy="1851.1" r="3.9"/>
<circle cx="1845.1" cy="1709.7" r="3.9"/>
<circle cx="1854.3" cy="1872.3" r="3.9"/>
<circle cx="1425.6" cy="2131.1" r="3.9"/>
<circle cx="1872.8" cy="2372.2" r="3.9"/>
<circle cx="1873.1" cy="2404.6" r="3.9"/>
<circle cx="1409.3" cy="2379.4" r="3.9"/>
<circle cx="1409" cy="2411.8" r="3.9"/>
<circle cx="1372.9" cy="2664" r="3.9"/>
<circle cx="1374.3" cy="2686.4" r="3.9"/>
<circle cx="1412.7" cy="2892.8" r="3.9"/>
<circle cx="1412.7" cy="2922.1" r="3.9"/>
<circle cx="1902.4" cy="3019.3" r="3.9"/>
<circle cx="1865.4" cy="3485.7" r="3.9"/>
<circle cx="1806" cy="3733.5" r="3.9"/>
<circle cx="1865.7" cy="3547.5" r="3.9"/>
<circle cx="1902.8" cy="3052.3" r="3.9"/>
<circle cx="1842.7" cy="4039.9" r="3.9"/>
<circle cx="1805.4" cy="3767.4" r="3.9"/>
<circle cx="1865.7" cy="3576.8" r="3.9"/>
<circle cx="1805.5" cy="3798.2" r="3.9"/>
<circle cx="1842.3" cy="4072.9" r="3.9"/>
<circle cx="1842.4" cy="4015.8" r="3.9"/>
<circle cx="1383.1" cy="4359.6" r="3.9"/>
<circle cx="1383.3" cy="4327.8" r="3.9"/>
<circle cx="1383.5" cy="4385.3" r="3.9"/>
<circle cx="1355.6" cy="4579.9" r="3.9"/>
<circle cx="1352.8" cy="3501.1" r="3.9"/>
<circle cx="1348.2" cy="3248.9" r="3.9"/>
<circle cx="1407.3" cy="1100.3" r="3.9"/>
<circle cx="1350.4" cy="3325.6" r="3.9"/>
<circle cx="1355.3" cy="3460" r="3.9"/>
<circle cx="1374.2" cy="3822.9" r="3.9"/>
<circle cx="1383.7" cy="4217.5" r="3.9"/>
<circle cx="1357.8" cy="4544.2" r="3.9"/>
</g>
<text x="15.7" y="4744.5" textLength="189.1" lengthAdjust="spacingAndGlyphs">Generated by SchemaSpy</text>
</svg>
</body></html>
